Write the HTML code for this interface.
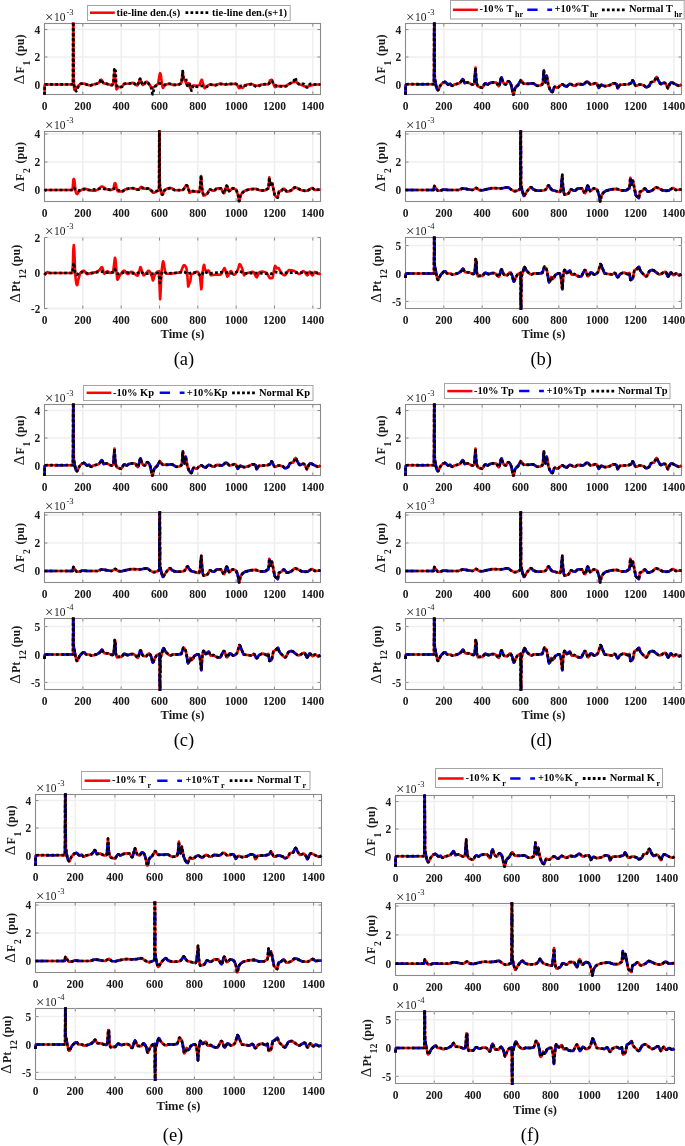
<!DOCTYPE html><html><head><meta charset="utf-8"><style>
html,body{margin:0;padding:0;background:#fff;width:685px;height:1146px;overflow:hidden}
svg{display:block;will-change:transform}
text{font-family:"Liberation Serif",serif;fill:#1a1a1a}
.tk{font-size:12.8px;font-weight:bold}
.yl{font-size:12px;font-weight:bold}
.ylD{font-size:15px}
.xl{font-size:12.2px;font-weight:bold}
.lg{font-size:10.5px;font-weight:bold;fill:#000}
.ex{font-size:11.5px}
.cap{font-size:18.5px;fill:#000}
.r{fill:none;stroke:#f00;stroke-width:2.6;stroke-linejoin:round}
.b{fill:none;stroke:#00f;stroke-width:2.6;stroke-dasharray:10.2 10.2;stroke-linejoin:round}
.k{fill:none;stroke:#000;stroke-width:2.7;stroke-dasharray:2.8 2.3;stroke-linejoin:round}
</style></head><body>
<svg width="685" height="1146" viewBox="0 0 685 1146">
<defs>
<clipPath id="c1"><rect x="42.5" y="22.3" width="280" height="73.4"/></clipPath>
<clipPath id="c2"><rect x="42.5" y="130.3" width="280" height="72.4"/></clipPath>
<clipPath id="c3"><rect x="42.5" y="236.3" width="280" height="73.4"/></clipPath>
<clipPath id="c4"><rect x="403.5" y="22.3" width="280" height="73.4"/></clipPath>
<path id="p5" d="M405.5,94.8 405.7,85.8 405.8,84.9 406.5,84.4 407.4,84.2 434,84.2 434.2,19.5 434.4,19.5 434.7,75.5 435.1,80.2 436.2,86.5 437,89.1 437.8,90.2 438.1,90.2 438.5,89.7 440.1,86 441.3,84.2 443.2,82.6 444.7,81.9 445.4,82 447.7,84.4 448.2,84.4 450.3,83.8 451.6,85.7 452.1,85.8 454.4,84.5 458.5,83.5 459.7,83 460.8,81.9 462.4,79.4 462.8,79.1 463.2,79.6 464.6,83.1 467.8,82.4 471.7,84.4 472.7,84.5 473.6,84.1 474.2,83.6 474.5,81.7 475.5,67.6 476,77.6 476.5,82.2 477.2,84.9 477.7,85.8 478.2,86.5 481.3,87.6 482.1,87.8 482.6,87.3 484.5,84.1 485.2,83.3 485.8,83.3 487.2,84.3 487.8,84.5 489.9,83.1 492.4,82.4 496.2,82.5 496.7,83.1 498.3,85.7 498.6,86.1 498.9,86.1 499.5,84.8 501.1,78.1 501.5,77.3 501.8,77.8 502.6,80.8 503.3,82.8 504.6,84 505.5,84.4 506.1,84.4 507.7,81.7 508.2,81.2 509.3,81.7 510.5,83.2 511.5,86.2 513,94.1 513.4,95 513.8,94.1 515.1,88 515.9,87 518.1,85 520.8,80.1 521.3,80.4 522.4,82.4 523.4,83.4 524,83.8 529,83.8 532.7,83.3 533.7,83.7 536.8,85.6 537.6,85.8 540,85.5 542.2,84.5 542.5,83.5 543.1,80.4 543.9,70.5 544.6,79.6 545.1,82.1 545.4,82.4 545.6,82 546.5,76.5 546.8,75.7 548.2,84.3 548.9,86.8 550.1,89.7 551.4,91.4 552.2,92 552.7,91.5 554,87.7 554.5,86.8 555.3,86.9 557,87.7 557.7,87.7 558.3,87.4 559.7,85.9 561.9,84.5 563,84.7 565.3,86.2 566.2,86.5 567.1,86.2 569,84.4 569.9,83.9 570.9,84.1 573.5,85.6 574.6,85.8 575.3,85.6 577,84.3 577.8,83.9 582.1,84.4 583.3,84.4 584.1,83.9 586.1,82.1 587.1,81.7 588,82 589.9,84 590.7,84.5 592.1,84.3 595.2,83.2 596.4,83.2 597,83.8 597.7,85.2 598.7,87.9 599.1,87.6 599.9,86 601.2,84.9 602.1,85 604.4,86.1 605.9,86.1 609.7,85.2 613.1,83.3 615,83.4 616.6,84.1 617.4,87.5 617.7,88.2 618.2,87.7 619.4,85.5 619.9,84.9 627.7,84.2 629.8,83.8 630.7,83.3 631.7,82.4 632.6,80.4 633.1,80.9 634.9,84.7 635.7,85.8 636.7,85.7 639.3,84.6 640.8,84.5 644,85.5 645.8,87.1 646.6,87.2 648,86.7 649.4,85.6 650.9,82.2 654.1,81.5 654.7,80.5 655.9,77.6 656.6,76.9 657.1,77.5 658,79.8 659.3,82 660.3,83.6 660.8,83.9 661.3,83.9 663.9,82.8 664.8,82.8 665.5,83.5 666.5,85.2 667.5,87.7 667.9,88.2 668.3,87.7 669.1,85.4 670,83.7 670.6,82.8 671.1,82.4 672.5,82.7 677.5,85.3 678.8,85.8 679.9,85.7 681.5,84.5"/>
<clipPath id="c6"><rect x="403.5" y="130.3" width="280" height="72.4"/></clipPath>
<path id="p7" d="M405.5,190 433.7,190 434.1,187.2 434.4,186 437.1,190.1 437.9,190.7 440.5,190.5 443.7,189.6 448.5,190 458.3,190 461.7,188.8 462.7,188.6 465.4,188.8 472.3,190 473.2,189.7 476.2,187.9 476.9,188.2 478.9,190 482.7,190.3 486.6,189.2 491.8,188.2 493.9,188.1 498,188.3 500.4,188.3 503.4,188 507.6,187.2 508.5,187.5 510.9,189.3 513.1,190.6 514.3,191.1 515.4,191.1 516.8,190.8 519.6,189.6 520.3,188.6 520.6,127.5 520.8,127.5 521,183 521.3,185.8 522.3,190.9 523.4,194.8 523.9,195.9 524.2,195.8 524.6,195.4 526.2,192.5 528.1,189.9 530,187.8 530.9,187.2 531.6,187.5 533.2,189.3 535.2,190.2 538.3,190.7 541.6,190.6 544.2,190.2 545.3,189.8 547,187.9 548,185.9 548.5,185.4 549,185.8 550.2,187.9 551.5,189.4 552.2,190 558.1,191.7 560.1,191.9 560.6,190.7 561.2,186.9 562.3,174.8 563,187.2 563.8,192.5 564.5,194.6 566.2,194.4 568.3,193.5 568.9,192.8 570.3,190.1 570.9,189.5 571.7,189.6 573.8,190.7 574.7,190.8 575.5,190.4 577.3,188.7 578.1,188.3 581.9,188.4 582.6,189.3 584.3,192.6 584.8,193.1 585.2,193.2 585.8,191.9 587,186.7 587.6,185.7 588.2,186.3 589.6,190.3 590.2,191.1 591,190.8 593,188.8 593.7,188.4 595.3,188.7 597.1,189.8 597.9,191.6 599.1,195.3 599.9,200.9 600.2,201.6 600.5,200.9 601.3,196.2 602.1,194.5 603.7,192.3 606.2,190.7 610.7,189.4 616.1,188.9 617.5,189.1 620.9,190.4 626,190.4 626.7,190.1 628.1,189 629.3,188.4 629.6,187 630.3,177.7 631.1,184.8 631.5,184.3 632.5,181 632.8,180.6 633,180.9 635.7,194.9 636.5,196.1 638.7,198.1 639,197.7 639.9,191.7 642.3,190.8 644.1,189 644.8,188.6 645.6,189 647.4,191.3 648.1,191.7 650.1,191.3 652.8,190 655.1,187.8 656.1,187.4 657.5,187.7 662.6,190.3 666,190.8 668.6,190.7 671.8,188.5 673,188.1 673.7,188.3 675.4,189.7 676,190 681.5,189.5"/>
<clipPath id="c8"><rect x="403.5" y="236.3" width="280" height="73.4"/></clipPath>
<path id="p9" d="M405.5,278 405.8,274.1 405.9,273.8 406.6,273.5 434,273.5 434.2,233.5 434.4,233.5 434.5,238.1 434.7,265.1 435,267.6 435.6,270 436.6,275.4 437.3,278.7 437.8,279.9 438.1,279.9 438.6,279.3 440.2,275.8 441.4,274 443.7,271.8 445,271.2 445.6,271.4 446.7,273.1 447.2,273.5 450.3,273.5 452.2,274.6 453.5,274.5 457.4,273.4 459.6,272.4 461.5,270.7 462.5,269 463,268.6 463.4,269 464.1,270.7 465.2,272.1 469,272.4 472.4,273.8 473.7,274 474.3,273.3 474.9,271.8 475.6,259 476.2,259.5 476.3,260.5 476.8,272.4 477.5,275.3 478,276.3 479.8,275.7 482.3,275.9 482.9,275.4 484.7,273.1 485.4,272.7 486.1,272.9 487.5,273.8 488.2,274.1 489.2,273.9 492.3,273 493.7,273.1 495.3,273.5 496.2,274.1 498.1,276.5 498.8,276.9 499.3,276.1 501,270.2 501.5,269.4 502,270.1 503.6,274.2 504.2,274.9 507.3,275.1 507.9,274.7 509.5,272.6 510,272.4 510.5,272.7 511.3,273.8 512.4,276 513.4,280.9 513.8,281.7 514.4,281 515.8,277.2 517.4,274.7 518.7,273.6 520.6,272.9 520.8,312.5 521,312.5 521.1,307.5 521.3,279.1 521.6,276.4 523.1,271.1 524,267.9 524.5,267.1 525,267.5 526.2,270.2 527.7,271.9 530.1,273.9 531.6,274.4 534.3,273.3 538.8,273.5 542.2,272.9 542.7,271.9 544.2,267 544.5,266.6 544.8,266.8 546.1,268.3 546.7,269.8 547.6,274 548.7,281.2 549.1,282.3 549.5,281.9 550.3,280.5 551.3,276.9 551.5,277.1 552.2,279 552.7,279 553.4,278.5 554.2,277.6 555.1,275.3 555.6,274.8 557.6,273.6 558.6,273.3 559.4,273.3 560.2,274.5 561,277.5 562.3,289.3 563.3,275.4 563.9,271.8 564.5,270 565.1,270.3 566.3,272.5 566.8,272.9 567.5,272.7 569.1,270.9 569.8,270.6 570.1,271 571.2,274 571.6,274.6 574.6,274.1 576.8,275.8 578.9,276.3 580.9,276.4 581.4,276.2 581.9,275.4 584.2,270.7 584.7,270.1 585.2,270 585.9,271.1 587.4,275.7 587.8,276.3 588.1,276.4 588.6,275.9 590.1,273.1 590.7,272.4 591.6,272.6 593.5,274.2 594.3,274.6 595.5,274.3 596.9,273.3 597.9,272.1 598.4,271.2 600.4,264.2 600.8,264.4 601.3,265.2 604.1,272.4 604.7,273.5 611.9,274.5 612.6,274.2 614.2,273.1 614.9,273 615.6,273.7 617,276.6 617.7,277.2 618.3,276.8 620,274.2 622.5,272.9 624.5,272.6 626.9,273.9 627.6,274.1 629.4,272.9 630.5,280 631.7,279.5 632.9,278.1 634.4,270.1 636.5,269.3 638.2,267.3 638.9,266.8 639,266.8 639.3,267.4 640.2,270.4 641.2,271.9 644.7,275.6 646,276.4 646.5,276.3 647.1,275.6 649.4,271.2 650.9,270.3 652.4,270 653.7,270.4 658.2,273.9 659.5,274.4 660.8,274.2 664.1,272.1 665.5,271.8 666.1,272.5 667.5,275.9 668.1,276.4 668.7,275.9 670.1,273 670.7,272.3 671.3,272.6 672.9,274.7 673.5,275.2 674.1,275 675.4,273.8 675.8,273.5 676.7,273.7 678.5,275 679.3,275.2 680.1,275 681.5,274.1"/>
<clipPath id="c10"><rect x="42.5" y="403.3" width="280" height="73.4"/></clipPath>
<path id="p11" d="M44.5,475.8 44.7,466.8 44.8,465.9 45.5,465.4 46.4,465.2 73,465.2 73.2,400.5 73.4,400.5 73.7,456.5 74.1,461.2 75.2,467.5 76,470.1 76.8,471.2 77.1,471.2 77.5,470.7 79.1,467 80.3,465.2 82.2,463.6 83.7,462.9 84.4,463 86.7,465.4 87.2,465.4 89.3,464.8 90.6,466.7 91.1,466.8 93.4,465.5 97.5,464.5 98.7,464 99.8,462.9 101.4,460.4 101.8,460.1 102.2,460.6 103.6,464.1 106.8,463.4 110.7,465.4 111.7,465.5 112.6,465.1 113.2,464.6 113.5,462.7 114.5,448.6 115,458.6 115.5,463.2 116.2,465.9 116.7,466.8 117.2,467.5 120.3,468.6 121.1,468.8 121.5,468.3 123.5,465.1 124.2,464.3 124.8,464.3 126.2,465.3 126.8,465.5 128.9,464.1 131.4,463.4 135.2,463.5 135.7,464.1 137.3,466.7 137.7,467.1 137.9,467.1 138.5,465.8 140.1,459.1 140.5,458.3 140.8,458.8 141.6,461.8 142.3,463.8 143.6,465 144.5,465.4 145.1,465.4 146.7,462.7 147.2,462.2 148.3,462.7 149.5,464.2 150.5,467.2 152,475.1 152.4,476 152.8,475.1 154.1,469 154.9,468 157.1,466 159.8,461.1 160.3,461.4 161.4,463.4 162.4,464.4 163,464.8 168,464.8 171.7,464.3 172.7,464.7 175.8,466.6 176.6,466.8 179.1,466.5 181.2,465.5 181.5,464.5 182.1,461.4 182.9,451.5 183.6,460.6 184.1,463.1 184.4,463.4 184.6,463 185.5,457.5 185.8,456.7 187.2,465.3 187.9,467.8 189.1,470.7 190.4,472.4 191.2,473 191.7,472.5 193,468.7 193.5,467.8 194.3,467.9 196,468.7 196.7,468.7 197.3,468.4 198.7,466.9 200.9,465.5 202.1,465.7 204.3,467.2 205.2,467.5 206.1,467.2 208,465.4 208.9,464.9 209.9,465.1 212.5,466.6 213.6,466.8 214.3,466.6 216,465.3 216.8,464.9 221.1,465.4 222.3,465.4 223.1,464.9 225.1,463.1 226.1,462.7 227,463 228.9,465 229.7,465.5 231.1,465.3 234.2,464.2 235.4,464.2 236,464.8 236.7,466.2 237.7,468.9 238.1,468.6 238.9,467 240.2,465.9 241.2,466 243.4,467.1 244.9,467.1 248.7,466.2 252.1,464.3 254,464.4 255.6,465.1 256.4,468.5 256.7,469.2 257.2,468.7 258.4,466.5 258.9,465.9 266.7,465.2 268.8,464.8 269.7,464.3 270.7,463.4 271.6,461.4 272.1,461.9 273.9,465.7 274.7,466.8 275.7,466.7 278.3,465.6 279.8,465.5 283,466.5 284.8,468.1 285.6,468.2 287,467.7 288.4,466.6 289.9,463.2 293.1,462.5 293.7,461.5 294.9,458.6 295.6,457.9 296.1,458.5 297,460.8 298.3,463 299.3,464.6 299.8,464.9 300.3,464.9 302.9,463.8 303.8,463.8 304.5,464.5 305.6,466.2 306.5,468.7 306.9,469.2 307.3,468.7 308.1,466.4 309,464.7 309.6,463.8 310.1,463.4 311.5,463.7 316.5,466.3 317.8,466.8 318.9,466.7 320.5,465.5"/>
<clipPath id="c12"><rect x="42.5" y="511.3" width="280" height="72.4"/></clipPath>
<path id="p13" d="M44.5,571 72.7,571 73.1,568.2 73.4,567 76.1,571.1 76.9,571.7 79.5,571.5 82.7,570.6 87.5,571 97.3,571 100.7,569.8 101.7,569.6 104.4,569.8 111.3,571 112.2,570.7 115.2,568.9 115.9,569.2 117.9,571 121.7,571.3 125.6,570.2 130.8,569.2 132.9,569.1 137,569.3 139.4,569.3 142.4,569 146.6,568.2 147.5,568.5 149.9,570.3 152.1,571.6 153.3,572.1 154.4,572.1 155.8,571.8 158.6,570.6 159.3,569.6 159.6,508.5 159.8,508.5 160,564 160.3,566.8 161.3,571.9 162.4,575.8 162.9,576.9 163.2,576.8 163.6,576.4 165.2,573.5 167.1,570.9 169,568.8 169.9,568.2 170.6,568.5 172.2,570.3 174.2,571.2 177.3,571.7 180.6,571.6 183.2,571.2 184.3,570.8 185.9,568.9 187,566.9 187.5,566.4 188,566.8 189.2,568.9 190.5,570.4 191.2,571 197.1,572.7 199.1,572.9 199.6,571.7 200.2,567.9 201.3,555.8 202.1,568.2 202.8,573.5 203.5,575.6 205.2,575.4 207.3,574.5 207.9,573.8 209.3,571.1 209.9,570.5 210.7,570.6 212.8,571.7 213.7,571.8 214.5,571.4 216.3,569.7 217.1,569.3 220.9,569.4 221.6,570.3 223.3,573.6 223.8,574.1 224.2,574.2 224.8,572.9 226,567.7 226.6,566.7 227.2,567.3 228.6,571.3 229.2,572.1 230,571.8 231.9,569.8 232.7,569.4 234.3,569.7 236.1,570.8 236.9,572.6 238.1,576.3 238.9,581.9 239.2,582.6 239.5,581.9 240.3,577.2 241.1,575.5 242.7,573.3 245.2,571.7 249.7,570.4 255.1,569.9 256.5,570.1 259.9,571.4 265,571.4 265.7,571.1 267.1,570 268.3,569.4 268.6,568 269.3,558.7 270.1,565.8 270.5,565.3 271.5,562 271.8,561.6 272,561.9 274.7,575.9 275.5,577.1 277.7,579.1 277.9,578.7 278.9,572.7 281.3,571.8 283.1,570 283.8,569.6 284.6,570 286.4,572.3 287.1,572.7 289.1,572.3 291.8,571 294.1,568.8 295.1,568.4 296.5,568.7 301.6,571.3 305,571.8 307.6,571.7 310.8,569.5 312,569.1 312.7,569.3 314.4,570.7 315,571 320.5,570.5"/>
<clipPath id="c14"><rect x="42.5" y="617.3" width="280" height="73.4"/></clipPath>
<path id="p15" d="M44.5,659 44.8,655.1 44.9,654.8 45.6,654.5 73,654.5 73.2,614.5 73.4,614.5 73.5,619.1 73.7,646.1 74,648.6 74.6,651 75.5,656.4 76.3,659.7 76.8,660.9 77.1,660.9 77.6,660.3 79.2,656.8 80.4,655 82.7,652.8 84,652.2 84.6,652.4 85.7,654.1 86.2,654.5 89.3,654.5 91.2,655.6 92.5,655.5 96.4,654.4 98.5,653.4 100.5,651.7 101.5,650 102,649.6 102.4,650 103.2,651.7 104.2,653.1 108,653.4 111.4,654.8 112.7,655 113.3,654.3 113.9,652.8 114.7,640 115.2,640.5 115.3,641.5 115.8,653.4 116.5,656.3 117,657.3 118.8,656.7 121.3,656.9 121.9,656.4 123.7,654.1 124.4,653.7 125.1,653.9 126.5,654.8 127.2,655.1 128.2,654.9 131.3,654 132.7,654.1 134.3,654.5 135.2,655.1 137.1,657.5 137.8,657.9 138.3,657.1 140,651.2 140.5,650.4 141,651.1 142.6,655.2 143.2,655.9 146.3,656.1 146.8,655.7 148.5,653.6 149,653.4 149.5,653.7 150.3,654.8 151.4,657 152.4,661.9 152.8,662.7 153.4,662 154.8,658.2 156.4,655.7 157.7,654.6 159.6,653.9 159.8,693.5 160,693.5 160.1,688.5 160.3,660.1 160.7,657.4 162.1,652.1 163,648.9 163.5,648.1 164,648.5 165.2,651.2 166.7,652.9 169.1,654.9 170.6,655.4 173.3,654.3 177.8,654.5 181.2,653.9 181.7,652.9 183.2,648 183.5,647.6 183.8,647.8 185.1,649.3 185.7,650.8 186.6,655 187.7,662.2 188.1,663.3 188.5,662.9 189.3,661.5 190.3,657.9 190.6,658.1 191.2,660 191.7,660 192.4,659.5 193.2,658.6 194.1,656.3 194.6,655.8 196.6,654.6 197.6,654.3 198.4,654.3 199.2,655.5 200,658.5 201.3,670.3 202.3,656.4 202.9,652.8 203.5,651 204.1,651.3 205.3,653.5 205.8,653.9 206.5,653.7 208.1,651.9 208.8,651.6 209.2,652.2 210.1,654.8 210.6,655.6 213.6,655.1 215.8,656.8 217.9,657.3 219.9,657.4 220.4,657.2 220.9,656.4 223.2,651.7 223.7,651.1 224.2,651 224.9,652.1 226.4,656.7 226.8,657.3 227.1,657.4 227.7,656.7 229.2,653.9 229.7,653.4 230.6,653.6 232.5,655.2 233.3,655.6 234.5,655.3 235.9,654.3 236.9,653.1 237.4,652.2 239.4,645.2 239.8,645.4 240.3,646.2 243.1,653.4 243.7,654.5 250.9,655.5 251.6,655.2 253.2,654.1 253.9,654 254.6,654.7 256,657.6 256.7,658.2 257.3,657.8 259,655.2 261.5,653.9 263.5,653.6 265.9,654.9 266.6,655.1 268.4,653.9 269.5,661 270.7,660.5 271.9,659.1 273.4,651.1 275.5,650.3 277.2,648.3 277.9,647.8 278,647.8 278.3,648.4 279.2,651.4 280.2,652.9 283.7,656.6 285,657.4 285.5,657.3 286.1,656.6 288.4,652.2 289.9,651.3 291.4,651 292.7,651.4 297.2,654.9 298.5,655.4 299.8,655.2 303.1,653.1 304.5,652.8 305.1,653.5 306.5,656.9 307.1,657.4 307.7,656.9 309.1,654 309.7,653.3 310.3,653.6 311.9,655.7 312.5,656.2 313.1,656 314.4,654.8 314.8,654.5 315.7,654.7 317.5,656 318.3,656.2 319.1,656 320.5,655.1"/>
<clipPath id="c16"><rect x="403.5" y="403.3" width="280" height="73.4"/></clipPath>
<path id="p17" d="M405.5,475.8 405.7,466.8 405.8,465.9 406.5,465.4 407.4,465.2 434,465.2 434.2,400.5 434.4,400.5 434.7,456.5 435.1,461.2 436.2,467.5 437,470.1 437.8,471.2 438.1,471.2 438.5,470.7 440.1,467 441.3,465.2 443.2,463.6 444.7,462.9 445.4,463 447.7,465.4 448.2,465.4 450.3,464.8 451.6,466.7 452.1,466.8 454.4,465.5 458.5,464.5 459.7,464 460.8,462.9 462.4,460.4 462.8,460.1 463.2,460.6 464.6,464.1 467.8,463.4 471.7,465.4 472.7,465.5 473.6,465.1 474.2,464.6 474.5,462.7 475.5,448.6 476,458.6 476.5,463.2 477.2,465.9 477.7,466.8 478.2,467.5 481.3,468.6 482.1,468.8 482.6,468.3 484.5,465.1 485.2,464.3 485.8,464.3 487.2,465.3 487.8,465.5 489.9,464.1 492.4,463.4 496.2,463.5 496.7,464.1 498.3,466.7 498.6,467.1 498.9,467.1 499.5,465.8 501.1,459.1 501.5,458.3 501.8,458.8 502.6,461.8 503.3,463.8 504.6,465 505.5,465.4 506.1,465.4 507.7,462.7 508.2,462.2 509.3,462.7 510.5,464.2 511.5,467.2 513,475.1 513.4,476 513.8,475.1 515.1,469 515.9,468 518.1,466 520.8,461.1 521.3,461.4 522.4,463.4 523.4,464.4 524,464.8 529,464.8 532.7,464.3 533.7,464.7 536.8,466.6 537.6,466.8 540,466.5 542.2,465.5 542.5,464.5 543.1,461.4 543.9,451.5 544.6,460.6 545.1,463.1 545.4,463.4 545.6,463 546.5,457.5 546.8,456.7 548.2,465.3 548.9,467.8 550.1,470.7 551.4,472.4 552.2,473 552.7,472.5 554,468.7 554.5,467.8 555.3,467.9 557,468.7 557.7,468.7 558.3,468.4 559.7,466.9 561.9,465.5 563,465.7 565.3,467.2 566.2,467.5 567.1,467.2 569,465.4 569.9,464.9 570.9,465.1 573.5,466.6 574.6,466.8 575.3,466.6 577,465.3 577.8,464.9 582.1,465.4 583.3,465.4 584.1,464.9 586.1,463.1 587.1,462.7 588,463 589.9,465 590.7,465.5 592.1,465.3 595.2,464.2 596.4,464.2 597,464.8 597.7,466.2 598.7,468.9 599.1,468.6 599.9,467 601.2,465.9 602.1,466 604.4,467.1 605.9,467.1 609.7,466.2 613.1,464.3 615,464.4 616.6,465.1 617.4,468.5 617.7,469.2 618.2,468.7 619.4,466.5 619.9,465.9 627.7,465.2 629.8,464.8 630.7,464.3 631.7,463.4 632.6,461.4 633.1,461.9 634.9,465.7 635.7,466.8 636.7,466.7 639.3,465.6 640.8,465.5 644,466.5 645.8,468.1 646.6,468.2 648,467.7 649.4,466.6 650.9,463.2 654.1,462.5 654.7,461.5 655.9,458.6 656.6,457.9 657.1,458.5 658,460.8 659.3,463 660.3,464.6 660.8,464.9 661.3,464.9 663.9,463.8 664.8,463.8 665.5,464.5 666.5,466.2 667.5,468.7 667.9,469.2 668.3,468.7 669.1,466.4 670,464.7 670.6,463.8 671.1,463.4 672.5,463.7 677.5,466.3 678.8,466.8 679.9,466.7 681.5,465.5"/>
<clipPath id="c18"><rect x="403.5" y="511.3" width="280" height="72.4"/></clipPath>
<path id="p19" d="M405.5,571 433.7,571 434.1,568.2 434.4,567 437.1,571.1 437.9,571.7 440.5,571.5 443.7,570.6 448.5,571 458.3,571 461.7,569.8 462.7,569.6 465.4,569.8 472.3,571 473.2,570.7 476.2,568.9 476.9,569.2 478.9,571 482.7,571.3 486.6,570.2 491.8,569.2 493.9,569.1 498,569.3 500.4,569.3 503.4,569 507.6,568.2 508.5,568.5 510.9,570.3 513.1,571.6 514.3,572.1 515.4,572.1 516.8,571.8 519.6,570.6 520.3,569.6 520.6,508.5 520.8,508.5 521,564 521.3,566.8 522.3,571.9 523.4,575.8 523.9,576.9 524.2,576.8 524.6,576.4 526.2,573.5 528.1,570.9 530,568.8 530.9,568.2 531.6,568.5 533.2,570.3 535.2,571.2 538.3,571.7 541.6,571.6 544.2,571.2 545.3,570.8 547,568.9 548,566.9 548.5,566.4 549,566.8 550.2,568.9 551.5,570.4 552.2,571 558.1,572.7 560.1,572.9 560.6,571.7 561.2,567.9 562.3,555.8 563,568.2 563.8,573.5 564.5,575.6 566.2,575.4 568.3,574.5 568.9,573.8 570.3,571.1 570.9,570.5 571.7,570.6 573.8,571.7 574.7,571.8 575.5,571.4 577.3,569.7 578.1,569.3 581.9,569.4 582.6,570.3 584.3,573.6 584.8,574.1 585.2,574.2 585.8,572.9 587,567.7 587.6,566.7 588.2,567.3 589.6,571.3 590.2,572.1 591,571.8 593,569.8 593.7,569.4 595.3,569.7 597.1,570.8 597.9,572.6 599.1,576.3 599.9,581.9 600.2,582.6 600.5,581.9 601.3,577.2 602.1,575.5 603.7,573.3 606.2,571.7 610.7,570.4 616.1,569.9 617.5,570.1 620.9,571.4 626,571.4 626.7,571.1 628.1,570 629.3,569.4 629.6,568 630.3,558.7 631.1,565.8 631.5,565.3 632.5,562 632.8,561.6 633,561.9 635.7,575.9 636.5,577.1 638.7,579.1 639,578.7 639.9,572.7 642.3,571.8 644.1,570 644.8,569.6 645.6,570 647.4,572.3 648.1,572.7 650.1,572.3 652.8,571 655.1,568.8 656.1,568.4 657.5,568.7 662.6,571.3 666,571.8 668.6,571.7 671.8,569.5 673,569.1 673.7,569.3 675.4,570.7 676,571 681.5,570.5"/>
<clipPath id="c20"><rect x="403.5" y="617.3" width="280" height="73.4"/></clipPath>
<path id="p21" d="M405.5,659 405.8,655.1 405.9,654.8 406.6,654.5 434,654.5 434.2,614.5 434.4,614.5 434.5,619.1 434.7,646.1 435,648.6 435.6,651 436.6,656.4 437.3,659.7 437.8,660.9 438.1,660.9 438.6,660.3 440.2,656.8 441.4,655 443.7,652.8 445,652.2 445.6,652.4 446.7,654.1 447.2,654.5 450.3,654.5 452.2,655.6 453.5,655.5 457.4,654.4 459.6,653.4 461.5,651.7 462.5,650 463,649.6 463.4,650 464.1,651.7 465.2,653.1 469,653.4 472.4,654.8 473.7,655 474.3,654.3 474.9,652.8 475.6,640 476.2,640.5 476.3,641.5 476.8,653.4 477.5,656.3 478,657.3 479.8,656.7 482.3,656.9 482.9,656.4 484.7,654.1 485.4,653.7 486.1,653.9 487.5,654.8 488.2,655.1 489.2,654.9 492.3,654 493.7,654.1 495.3,654.5 496.2,655.1 498.1,657.5 498.8,657.9 499.3,657.1 501,651.2 501.5,650.4 502,651.1 503.6,655.2 504.2,655.9 507.3,656.1 507.9,655.7 509.5,653.6 510,653.4 510.5,653.7 511.3,654.8 512.4,657 513.4,661.9 513.8,662.7 514.4,662 515.8,658.2 517.4,655.7 518.7,654.6 520.6,653.9 520.8,693.5 521,693.5 521.1,688.5 521.3,660.1 521.6,657.4 523.1,652.1 524,648.9 524.5,648.1 525,648.5 526.2,651.2 527.7,652.9 530.1,654.9 531.6,655.4 534.3,654.3 538.8,654.5 542.2,653.9 542.7,652.9 544.2,648 544.5,647.6 544.8,647.8 546.1,649.3 546.7,650.8 547.6,655 548.7,662.2 549.1,663.3 549.5,662.9 550.3,661.5 551.3,657.9 551.5,658.1 552.2,660 552.7,660 553.4,659.5 554.2,658.6 555.1,656.3 555.6,655.8 557.6,654.6 558.6,654.3 559.4,654.3 560.2,655.5 561,658.5 562.3,670.3 563.3,656.4 563.9,652.8 564.5,651 565.1,651.3 566.3,653.5 566.8,653.9 567.5,653.7 569.1,651.9 569.8,651.6 570.1,652 571.2,655 571.6,655.6 574.6,655.1 576.8,656.8 578.9,657.3 580.9,657.4 581.4,657.2 581.9,656.4 584.2,651.7 584.7,651.1 585.2,651 585.9,652.1 587.4,656.7 587.8,657.3 588.1,657.4 588.7,656.7 590.2,653.9 590.7,653.4 591.6,653.6 593.5,655.2 594.3,655.6 595.5,655.3 596.9,654.3 597.9,653.1 598.4,652.2 600.4,645.2 600.8,645.4 601.3,646.2 604.1,653.4 604.7,654.5 611.9,655.5 612.6,655.2 614.2,654.1 614.9,654 615.6,654.7 617,657.6 617.7,658.2 618.3,657.8 620,655.2 622.5,653.9 624.5,653.6 626.9,654.9 627.6,655.1 629.4,653.9 630.5,661 631.7,660.5 632.9,659.1 634.4,651.1 636.5,650.3 638.2,648.3 638.9,647.8 639,647.8 639.3,648.4 640.2,651.4 641.2,652.9 644.7,656.6 646,657.4 646.5,657.3 647.1,656.6 649.4,652.2 650.9,651.3 652.4,651 653.7,651.4 658.2,654.9 659.5,655.4 660.8,655.2 664.1,653.1 665.5,652.8 666.1,653.5 667.5,656.9 668.1,657.4 668.7,656.9 670.1,654 670.7,653.3 671.3,653.6 672.9,655.7 673.5,656.2 674.1,656 675.4,654.8 675.8,654.5 676.7,654.7 678.5,656 679.3,656.2 680.1,656 681.5,655.1"/>
<clipPath id="c22"><rect x="33.5" y="793.3" width="290" height="73.4"/></clipPath>
<path id="p23" d="M35.5,865.8 35.7,856.8 35.8,855.9 36.5,855.4 37.5,855.2 65,855.2 65.2,790.5 65.5,790.5 65.8,846.5 66.2,851.2 67.3,857.5 68.2,860.1 69,861.2 69.3,861.2 69.7,860.7 71.3,857 72.6,855.2 74.5,853.6 76.1,852.9 76.8,853 79.2,855.4 79.8,855.4 81.9,854.8 83.3,856.7 83.8,856.8 86.1,855.5 90.4,854.5 91.7,854 92.8,852.9 94.5,850.4 94.9,850.1 95.3,850.6 96.8,854.1 100,853.4 104.1,855.4 105.1,855.5 106.1,855.1 106.7,854.6 107,852.7 108,838.6 108.6,848.6 109.1,853.2 109.8,855.9 110.3,856.8 110.9,857.5 114.1,858.6 114.8,858.8 115.3,858.3 117.3,855.1 118.1,854.3 118.7,854.3 120.2,855.3 120.8,855.5 123,854.1 125.6,853.4 129.4,853.5 130,854.1 131.6,856.7 132,857.1 132.3,857.1 132.9,855.8 134.6,849.1 135,848.3 135.3,848.8 136.1,851.8 136.9,853.8 137.2,854.2 138.2,855 139.1,855.4 139.8,855.4 141.4,852.7 142,852.2 143,852.7 144.3,854.2 145.3,857.2 146,860 146.9,865.1 147.3,866 147.7,865.1 149.1,859 149.9,858 152.2,856 155,851.1 155.5,851.4 156.7,853.4 157.6,854.4 158.3,854.8 163.5,854.8 167.3,854.3 168.4,854.7 171.5,856.6 172.3,856.8 174.9,856.5 177.1,855.5 177.5,854.5 178.1,851.4 178.9,841.5 179.6,850.6 180.2,853.1 180.5,853.4 180.7,853 181.6,847.5 181.9,846.7 183.4,855.3 184.1,857.8 185.4,860.7 186.6,862.4 187.5,863 187.7,863 188,862.5 189.4,858.7 189.9,857.8 190.7,857.9 192.5,858.7 193.2,858.7 193.8,858.4 195.3,856.9 197.6,855.5 198.8,855.7 201,857.2 202,857.5 202.9,857.2 204.9,855.4 205.8,854.9 206.9,855.1 209.6,856.6 210.8,856.8 211.5,856.6 213.3,855.3 214.1,854.9 218.5,855.4 219.7,855.4 220.6,854.9 222.7,853.1 223.7,852.7 224.6,853 226.6,855 227.5,855.5 228.8,855.3 232.1,854.2 233.3,854.2 233.9,854.8 234.7,856.2 235.7,858.9 236.1,858.6 237,857 238.3,855.9 239.3,856 241.6,857.1 243.1,857.1 247.1,856.2 250.6,854.3 252.6,854.4 254.3,855.1 255.1,858.5 255.4,859.2 256,858.7 257.1,856.5 257.6,855.9 265.8,855.2 267.9,854.8 268.9,854.3 269.9,853.4 270.9,851.4 271.4,851.9 273.2,855.7 274,856.8 275.1,856.7 277.8,855.6 279.3,855.5 282.7,856.5 284.5,858.1 285.4,858.2 286.7,857.7 288.2,856.6 289.8,853.2 293.1,852.5 293.7,851.5 295,848.6 295.7,847.9 296.2,848.5 297.2,850.8 298.5,853 299.6,854.6 300.1,854.9 300.5,854.9 303.2,853.8 304.2,853.8 304.9,854.5 306,856.2 307,858.7 307.4,859.2 307.8,858.7 308.7,856.4 309.6,854.7 310.2,853.8 310.7,853.4 312.2,853.7 317.3,856.3 318.7,856.8 319.8,856.7 321.5,855.5"/>
<clipPath id="c24"><rect x="33.5" y="901.3" width="290" height="72.4"/></clipPath>
<path id="p25" d="M35.5,961 64.7,961 65.1,958.2 65.5,957 68.3,961.1 69.1,961.7 71.7,961.5 75.1,960.6 80.1,961 90.2,961 93.7,959.8 94.8,959.6 97.6,959.8 104.7,961 105.6,960.7 108.8,958.9 109.5,959.2 111.6,961 115.5,961.3 119.5,960.2 125,959.2 127.1,959.1 131.3,959.3 133.8,959.3 137,959 141.3,958.2 142.3,958.5 144.7,960.3 147,961.6 148.2,962.1 149.4,962.1 150.8,961.8 153.8,960.6 154.5,959.6 154.7,898.5 155,898.5 155.2,954 155.5,956.8 156.6,961.9 157.6,965.8 158.1,966.9 158.5,966.8 158.9,966.4 160.5,963.5 162.5,960.9 164.5,958.8 165.5,958.2 166.2,958.5 167.9,960.3 169.9,961.2 173.1,961.7 176.5,961.6 179.2,961.2 180.4,960.8 182.1,958.9 183.2,956.9 183.7,956.4 184.2,956.8 185.5,958.9 186.7,960.4 187.5,961 193.6,962.7 195.7,962.9 196.2,961.7 196.9,957.9 198,945.8 198.8,958.2 199.6,963.5 200.2,965.6 202,965.4 204.2,964.5 204.8,963.8 206.3,961.1 206.9,960.5 207.7,960.6 209.9,961.7 210.9,961.8 211.7,961.4 213.6,959.7 214.3,959.3 218.3,959.4 219,960.3 220.8,963.6 221.3,964.1 221.7,964.2 222.3,962.9 223.6,957.7 224.2,956.7 224.8,957.3 226.3,961.3 226.9,962.1 227.8,961.8 229.7,959.8 230.5,959.4 232.2,959.7 234,960.8 234.9,962.6 236.1,966.3 237,971.9 237.3,972.6 237.6,971.9 238.4,967.2 239.2,965.5 240.9,963.3 243.4,961.7 248.1,960.4 253.8,959.9 255.2,960.1 258.7,961.4 264,961.4 264.7,961.1 266.2,960 267.4,959.4 267.7,958 268.5,948.7 269.3,955.8 269.7,955.3 270.8,952 271.1,951.6 271.3,951.9 274,965.9 274.8,967.1 277.1,969.1 277.4,968.7 278.4,962.7 280.9,961.8 282.8,960 283.5,959.6 284.3,960 286.1,962.3 286.9,962.7 288.9,962.3 291.8,961 294.2,958.8 295.2,958.4 296.7,958.7 301.9,961.3 305.4,961.8 308.1,961.7 311.5,959.5 312.7,959.1 313.5,959.3 315.1,960.7 315.8,961 321.5,960.5"/>
<clipPath id="c26"><rect x="33.5" y="1007.3" width="290" height="73.4"/></clipPath>
<path id="p27" d="M35.5,1049 35.8,1045.1 35.9,1044.8 36.6,1044.5 65.1,1044.5 65.3,1004.5 65.5,1004.5 65.6,1009.1 65.7,1036.1 66.1,1038.6 66.7,1041 67.7,1046.4 68.5,1049.7 69,1050.9 69.3,1050.9 69.8,1050.3 71.4,1046.8 72.7,1045 75.1,1042.8 76.4,1042.2 77,1042.4 78.2,1044.1 78.7,1044.5 81.9,1044.5 83.9,1045.6 85.3,1045.5 89.3,1044.4 91.5,1043.4 93.5,1041.7 94.6,1040 95.1,1039.6 95.5,1040 96.3,1041.7 97.4,1043.1 101.3,1043.4 104.8,1044.8 106.2,1045 106.8,1044.3 107.4,1042.8 108.2,1030 108.8,1030.5 108.9,1031.5 109.4,1043.4 110.1,1046.3 110.7,1047.3 112.5,1046.7 115,1046.9 115.7,1046.4 117.5,1044.1 118.3,1043.7 119,1043.9 120.5,1044.8 121.2,1045.1 122.2,1044.9 125.5,1044 126.9,1044.1 128.5,1044.5 129.4,1045.1 131.4,1047.5 132.2,1047.9 132.7,1047.1 134.5,1041.2 135,1040.4 135.5,1041.1 137.2,1045.2 137.8,1045.9 141,1046.1 141.6,1045.7 143.2,1043.6 143.7,1043.4 144.3,1043.7 145.1,1044.8 146.2,1047 147.3,1051.9 147.7,1052.7 148.3,1052 149.8,1048.2 151.5,1045.7 152.8,1044.6 154.8,1043.9 155,1083.5 155.2,1083.5 155.3,1078.5 155.5,1050.1 155.9,1047.4 157.3,1042.1 158.3,1038.9 158.8,1038.1 159.3,1038.5 160.6,1041.2 162.1,1042.9 164.6,1044.9 166.2,1045.4 169,1044.3 173.6,1044.5 177.1,1043.9 177.7,1042.9 179.2,1038 179.5,1037.6 179.9,1037.8 181.2,1039.3 181.8,1040.8 182.8,1045 183.9,1052.2 184.3,1053.3 184.8,1052.9 185.6,1051.5 186.5,1047.9 186.8,1048.1 187.5,1050 188,1050 188.7,1049.5 189.6,1048.6 190.5,1046.3 191,1045.8 193.1,1044.6 194.2,1044.3 195,1044.3 195.8,1045.5 196.7,1048.5 198,1060.3 199.1,1046.4 199.7,1042.8 200.2,1041 200.8,1041.3 202.1,1043.5 202.6,1043.9 203.3,1043.7 205,1041.9 205.7,1041.6 206.2,1042.2 207.1,1044.8 207.6,1045.6 210.8,1045.1 213,1046.8 215.1,1047.3 217.2,1047.4 217.7,1047.2 218.3,1046.4 220.7,1041.7 221.2,1041.1 221.7,1041 222.4,1042.1 224,1046.7 224.4,1047.3 224.7,1047.4 225.3,1046.9 226.8,1044.1 227.5,1043.4 228.4,1043.6 230.3,1045.2 231.1,1045.6 232.4,1045.3 233.8,1044.3 234.9,1043.1 235.4,1042.2 237.5,1035.2 237.9,1035.4 238.4,1036.2 241.3,1043.4 242,1044.5 249.4,1045.5 250.1,1045.2 251.8,1044.1 252.5,1044 253.2,1044.7 254.7,1047.6 255.4,1048.2 256.1,1047.8 257.7,1045.2 260.3,1043.9 262.4,1043.6 264.9,1044.9 265.7,1045.1 267.5,1043.9 268.7,1051 269.9,1050.5 271.2,1049.1 272.7,1041.1 274.8,1040.3 276.6,1038.3 277.3,1037.8 277.5,1037.8 277.8,1038.4 278.7,1041.4 279.7,1042.9 283.4,1046.6 284.8,1047.4 285.3,1047.3 285.8,1046.6 288.2,1042.2 289.8,1041.3 291.3,1041 292,1041.1 292.7,1041.4 297.4,1044.9 298.7,1045.4 300.1,1045.2 303.4,1043.1 304.9,1042.8 305.5,1043.5 307,1046.9 307.6,1047.4 308.2,1046.9 309.7,1044 310.3,1043.3 311,1043.6 312.6,1045.7 313.3,1046.2 313.9,1046 315.1,1044.8 315.6,1044.5 316.5,1044.7 318.4,1046 319.2,1046.2 320,1046 321.5,1045.1"/>
<clipPath id="c28"><rect x="393.5" y="794.3" width="283" height="73.4"/></clipPath>
<path id="p29" d="M395.5,866.8 395.7,857.8 395.8,856.9 396.5,856.4 397.4,856.2 424.3,856.2 424.5,791.5 424.7,791.5 425,847.5 425.4,852.2 426.5,858.5 427.4,861.1 428.1,862.2 428.4,862.2 428.8,861.7 430.5,858 431.7,856.2 433.6,854.6 435.1,853.9 435.8,854 438.1,856.4 438.7,856.4 440.7,855.8 442.1,857.7 442.6,857.8 444.9,856.5 449.1,855.5 450.3,855 451.4,853.9 453,851.4 453.4,851.1 453.8,851.6 455.3,855.1 458.5,854.4 462.4,856.4 463.4,856.5 464.4,856.1 465,855.6 465.2,853.7 466.2,839.6 466.8,849.6 467.3,854.2 468,856.9 468.4,857.8 469,858.5 472.1,859.6 472.9,859.8 473.4,859.3 475.3,856.1 476.1,855.3 476.7,855.3 478.1,856.3 478.7,856.5 480.8,855.1 483.4,854.4 487.1,854.5 487.7,855.1 489.3,857.7 489.7,858.1 490,858.1 490.5,856.8 492.2,850.1 492.6,849.3 492.9,849.8 493.6,852.8 494.4,854.8 495.7,856 496.5,856.4 497.2,856.4 498.8,853.7 499.4,853.2 500.4,853.7 501.7,855.2 502.6,858.2 504.2,866.1 504.6,867 505,866.1 506.3,860 507.1,859 509.3,857 512,852.1 512.5,852.4 513.7,854.4 514.7,855.4 515.3,855.8 520.4,855.8 524.1,855.3 525.1,855.7 528.2,857.6 529,857.8 531.5,857.5 533.6,856.5 534,855.5 534.6,852.4 535.4,842.5 536.1,851.6 536.6,854.1 536.9,854.4 537.1,854 538,848.5 538.3,847.7 539.7,856.3 540.4,858.8 541.7,861.7 542.9,863.4 543.8,864 544.3,863.5 545.7,859.7 546.1,858.8 546.9,858.9 548.7,859.7 549.3,859.7 549.9,859.4 551.4,857.9 553.6,856.5 554.8,856.7 557,858.2 558,858.5 558.8,858.2 560.8,856.4 561.6,855.9 562.7,856.1 565.3,857.6 566.5,857.8 567.2,857.6 568.9,856.3 569.7,855.9 574,856.4 575.2,856.4 576.1,855.9 578.1,854.1 579.1,853.7 580,854 581.9,856 582.8,856.5 584.1,856.3 587.3,855.2 588.5,855.2 589.1,855.8 589.8,857.2 590.8,859.9 591.2,859.6 592.1,858 593.3,856.9 594.3,857 596.5,858.1 598.1,858.1 601.9,857.2 605.3,855.3 607.3,855.4 608.9,856.1 609.7,859.5 610,860.2 610.6,859.7 611.7,857.5 612.2,856.9 620.2,856.2 622.2,855.8 623.2,855.3 624.1,854.4 625.1,852.4 625.6,852.9 627.4,856.7 628.2,857.8 629.3,857.7 631.9,856.6 633.3,856.5 636.6,857.5 638.4,859.1 639.2,859.2 640.6,858.7 642,857.6 643.6,854.2 646.8,853.5 647.4,852.5 648.6,849.6 649.3,848.9 649.8,849.5 650.8,851.8 652,854 653.1,855.6 653.6,855.9 654.1,855.9 656.7,854.8 657.6,854.8 658.3,855.5 659.4,857.2 660.4,859.7 660.7,860.2 661.1,859.7 662,857.4 662.9,855.7 663.5,854.8 663.9,854.4 665.4,854.7 670.4,857.3 671.8,857.8 672.9,857.7 674.5,856.5"/>
<clipPath id="c30"><rect x="393.5" y="902.3" width="283" height="74.4"/></clipPath>
<path id="p31" d="M395.5,963.7 424,963.7 424.4,960.8 424.8,959.5 427.5,963.8 428.2,964.4 430.9,964.2 434.2,963.3 439,963.7 448.9,963.7 452.3,962.5 453.3,962.3 456,962.5 463,963.7 463.9,963.4 466.4,961.7 467,961.5 467.7,961.8 469.7,963.6 473.6,964 477.5,962.9 482.8,961.8 484.8,961.7 489,962 491.4,961.9 494.5,961.6 498.7,960.8 499.6,961.1 502.1,963 504.3,964.3 505.5,964.8 506.6,964.8 508,964.5 510.9,963.2 511.6,962.3 511.8,899.5 512,899.5 512.3,956.5 512.5,959.3 513.6,964.6 514.7,968.7 515.1,969.7 515.5,969.6 515.9,969.2 517.5,966.3 519.4,963.5 521.3,961.4 522.3,960.8 523,961.1 524.6,962.9 526.6,963.9 529.8,964.4 533.1,964.3 535.7,963.9 536.8,963.4 538.5,961.5 539.6,959.4 540,958.9 540.5,959.3 541.8,961.5 543,963 543.8,963.6 549.7,965.4 551.8,965.7 552.2,964.3 552.9,960.5 554,948 554.8,960.8 555.5,966.2 556.2,968.4 558,968.2 560.1,967.2 560.7,966.5 562.1,963.8 562.7,963.2 563.5,963.2 565.6,964.4 566.6,964.5 567.4,964.1 569.2,962.3 570,962 573.8,962.1 574.5,962.9 576.3,966.4 576.8,966.9 577.1,967 577.7,965.6 579,960.3 579.6,959.2 580.1,959.9 581.6,964 582.2,964.8 583,964.5 585,962.5 585.8,962 587.4,962.3 589.2,963.4 590,965.3 591.2,969.2 592.1,974.8 592.4,975.6 592.6,974.9 593.4,970.1 594.2,968.3 595.8,966.1 597,965.1 598.4,964.4 600.6,963.6 602.9,963 608.4,962.5 609.8,962.7 613.3,964.1 618.4,964.1 619.1,963.8 620.5,962.6 621.7,962.1 622,960.6 622.8,951 623.5,958.4 623.9,957.8 625,954.4 625.3,954 625.5,954.3 628.2,968.7 629,970 631.2,972 631.5,971.6 632.5,965.4 634.9,964.5 636.7,962.6 637.4,962.3 638.2,962.6 640,965 640.8,965.4 642.7,965 645.5,963.6 647.9,961.5 648.8,961 650.3,961.3 655.4,963.9 658.8,964.5 660.7,964.6 661.4,964.4 664.7,962.1 665.9,961.7 666.7,961.9 668.3,963.4 669,963.7 674.5,963.1"/>
<clipPath id="c32"><rect x="393.5" y="1010.3" width="283" height="74.4"/></clipPath>
<path id="p33" d="M395.5,1052.5 395.8,1048.6 395.9,1048.3 396.6,1048 424.3,1048 424.5,1007.5 424.7,1007.5 424.8,1012.1 425,1039.5 425.3,1042.1 425.9,1044.4 426.9,1050 427.7,1053.3 428.1,1054.5 428.4,1054.5 428.9,1053.9 430.6,1050.4 431.8,1048.6 434.2,1046.3 435.4,1045.6 436,1045.8 437.2,1047.6 437.6,1048 440.7,1048 442.7,1049.1 444,1049.1 448,1047.9 450.1,1046.9 452.1,1045.2 453.1,1043.4 453.6,1043 454,1043.5 454.8,1045.2 455.9,1046.6 459.7,1046.9 463.1,1048.4 464.5,1048.5 465.1,1047.8 465.6,1046.3 466.4,1033.3 467,1033.9 467.1,1034.9 467.6,1046.9 468.3,1049.8 468.8,1050.8 470.6,1050.3 473.1,1050.5 473.8,1049.9 475.5,1047.6 476.3,1047.2 477,1047.4 478.4,1048.3 479.1,1048.6 480.1,1048.5 483.3,1047.5 484.6,1047.6 486.3,1048 487.1,1048.6 489.1,1051 489.9,1051.4 490.3,1050.6 492.1,1044.7 492.6,1043.9 493.1,1044.5 494.7,1048.7 495.3,1049.4 498.4,1049.7 499,1049.2 500.6,1047.1 501.1,1046.9 501.7,1047.2 502.4,1048.3 503.5,1050.5 504.6,1055.5 505,1056.3 505.6,1055.6 507,1051.7 508.6,1049.3 509.9,1048.1 511.8,1047.4 512.1,1087.5 512.3,1087.5 512.4,1082.4 512.5,1053.7 512.9,1051 514.4,1045.6 515.3,1042.3 515.8,1041.5 516.3,1041.9 517.6,1044.6 519,1046.4 521.4,1048.4 523,1048.9 525.7,1047.8 530.3,1048 533.6,1047.4 534.2,1046.4 535.7,1041.5 536,1041 536.4,1041.2 537.6,1042.8 538.2,1044.2 539.2,1048.5 540.2,1055.8 540.6,1056.9 541.1,1056.5 541.9,1055.1 542.8,1051.5 543.1,1051.6 543.8,1053.6 544.3,1053.6 545,1053.1 545.9,1052.1 546.7,1049.8 547.2,1049.4 549.2,1048.1 550.3,1047.8 551.1,1047.8 551.9,1049.1 552.7,1052.1 554,1064 555.1,1050 555.6,1046.3 556.2,1044.5 556.8,1044.8 558.1,1047 558.5,1047.4 559.2,1047.2 560.9,1045.4 561.5,1045.1 562,1045.7 562.9,1048.3 563.4,1049.1 566.5,1048.6 568.6,1050.4 570.7,1050.8 572.8,1051 573.3,1050.7 573.8,1049.9 576.2,1045.1 576.7,1044.6 577.1,1044.5 577.8,1045.6 579.4,1050.3 579.8,1050.9 580,1050.9 580.6,1050.4 582.1,1047.6 582.8,1046.9 583.6,1047.1 585.6,1048.8 586.3,1049.1 587.6,1048.9 589,1047.8 590,1046.6 590.5,1045.7 592.5,1038.6 592.9,1038.8 593.4,1039.6 596.2,1046.9 596.9,1048 604.2,1049 604.8,1048.8 606.5,1047.6 607.2,1047.5 607.9,1048.2 609.3,1051.2 610,1051.8 610.7,1051.3 612.3,1048.7 614.8,1047.4 615.9,1047.1 616.9,1047.1 619.3,1048.4 620.1,1048.6 621.8,1047.4 623,1054.6 624.1,1054.1 625.4,1052.6 626.9,1044.6 629,1043.8 630.7,1041.7 631.4,1041.2 631.6,1041.3 631.9,1041.8 632.7,1044.9 633.7,1046.4 637.3,1050.1 638.7,1050.9 639.1,1050.9 639.7,1050.2 642,1045.6 643.6,1044.8 645,1044.4 645.7,1044.5 646.4,1044.8 651,1048.4 652.2,1049 653.6,1048.7 656.9,1046.6 658.3,1046.3 658.9,1047 660.4,1050.4 660.9,1051 661.5,1050.5 663,1047.5 663.6,1046.8 664.2,1047.1 665.8,1049.2 666.5,1049.8 667,1049.6 668.3,1048.3 668.8,1048 669.7,1048.2 671.5,1049.5 672.3,1049.8 673,1049.6 674.5,1048.6"/>
</defs>
<rect width="685" height="1146" fill="#fff"/>
<path d="M82.83 23.5V94.5M121.17 23.5V94.5M159.5 23.5V94.5M197.83 23.5V94.5M236.17 23.5V94.5M274.5 23.5V94.5M312.83 23.5V94.5M44.5 84.47H320.5M44.5 57.01H320.5M44.5 29.54H320.5" stroke="#efefef" stroke-width="1.5" fill="none"/>
<path d="M44.5 94.5v-3M44.5 23.5v3M82.83 94.5v-3M82.83 23.5v3M121.17 94.5v-3M121.17 23.5v3M159.5 94.5v-3M159.5 23.5v3M197.83 94.5v-3M197.83 23.5v3M236.17 94.5v-3M236.17 23.5v3M274.5 94.5v-3M274.5 23.5v3M312.83 94.5v-3M312.83 23.5v3M44.5 84.47h3M320.5 84.47h-3M44.5 57.01h3M320.5 57.01h-3M44.5 29.54h3M320.5 29.54h-3" stroke="#8a8a8a" stroke-width="1" fill="none"/>
<text x="44.5" y="109.5" class="tk" text-anchor="middle" textLength="5.75" lengthAdjust="spacingAndGlyphs">0</text>
<text x="82.83" y="109.5" class="tk" text-anchor="middle" textLength="17.25" lengthAdjust="spacingAndGlyphs">200</text>
<text x="121.17" y="109.5" class="tk" text-anchor="middle" textLength="17.25" lengthAdjust="spacingAndGlyphs">400</text>
<text x="159.5" y="109.5" class="tk" text-anchor="middle" textLength="17.25" lengthAdjust="spacingAndGlyphs">600</text>
<text x="197.83" y="109.5" class="tk" text-anchor="middle" textLength="17.25" lengthAdjust="spacingAndGlyphs">800</text>
<text x="236.17" y="109.5" class="tk" text-anchor="middle" textLength="23" lengthAdjust="spacingAndGlyphs">1000</text>
<text x="274.5" y="109.5" class="tk" text-anchor="middle" textLength="23" lengthAdjust="spacingAndGlyphs">1200</text>
<text x="312.83" y="109.5" class="tk" text-anchor="middle" textLength="23" lengthAdjust="spacingAndGlyphs">1400</text>
<text x="40.2" y="88.87" class="tk" text-anchor="end" textLength="5.75" lengthAdjust="spacingAndGlyphs">0</text>
<text x="40.2" y="61.41" class="tk" text-anchor="end" textLength="5.75" lengthAdjust="spacingAndGlyphs">2</text>
<text x="40.2" y="33.94" class="tk" text-anchor="end" textLength="5.75" lengthAdjust="spacingAndGlyphs">4</text>
<text x="44.9" y="21.9" class="ex" style="font-size:15px">&#215;</text>
<text x="54.1" y="20.5" class="ex">10</text>
<text x="66.4" y="15" class="ex" style="font-size:8.5px">-3</text>
<g transform="translate(23.5 84) rotate(-90)">
<text x="-0.2" y="0" class="ylD">&#916;</text>
<text x="10.5" y="0" class="yl">F</text>
<text x="18.6" y="6.2" class="yl" style="font-size:9.5px">1</text>
<text x="28.1" y="0" class="yl">(pu)</text>
</g>
<rect x="44.5" y="23.5" width="276" height="71" stroke="#8a8a8a" stroke-width="1.1" fill="none"/>
<g clip-path="url(#c1)">
<path class="r" d="M44.5,94.8 44.7,85.8 44.8,84.9 45.2,84.5 73,84.2 73.2,19.5 73.4,19.5 73.6,80.4 74.1,87.9 74.3,89.3 74.6,90 75.5,89.9 77.3,87 79.8,84.4 80.5,83.8 84,83.5 88.8,85.3 90.6,85.4 93.3,84.5 96.6,83.8 98,83.3 99.4,82.3 100.7,80.2 101.2,79.7 101.5,79.9 102.9,82.5 103.6,83.3 107,83.9 110.7,85 112,85.1 112.7,84.1 113.5,81.7 114.3,72.1 114.7,72.9 115.2,76.2 115.8,84.5 116.3,88.4 116.6,89.3 117,89 118,87.3 122.1,86.7 123.8,84.2 124.4,83.8 129.1,83.5 133.2,82.8 134.2,83.3 136.4,85.2 137.4,85.4 137.9,84.6 139.8,79.5 140.1,79 140.5,79.5 141.5,82.4 142.3,84.2 142.8,84.8 143.2,84.9 143.8,84.5 145.9,82 146.4,81.7 146.8,81.8 147.8,82.6 151.5,87.4 152.2,87.9 152.8,87.8 153.6,87.4 155.4,85.8 157.1,84.7 158,83.8 158.3,82.4 159.7,74.3 160.1,73.2 160.5,73.9 161,76.2 161.9,83.9 162.5,86.8 162.9,87.9 163.3,87.6 164.6,85.2 166.1,84.5 167.7,84 169.8,83.8 173.2,84.9 176.4,84.7 179.4,84.3 180.7,83.7 181.4,82.8 182.7,71.4 183.5,79 185,80.6 186.4,83.6 187,84.4 187.4,84.4 188.2,83.2 188.4,83.1 188.6,83.3 189.8,87.3 190.2,87.9 191.6,87.2 193.2,85.5 197.3,85.8 198.1,85.6 199,85.1 199.8,84.3 201.2,80.4 201.7,79.7 202.1,80.3 204.1,87.2 204.4,88 204.7,88.2 205.2,87.9 206.5,86.5 208.5,85.2 209.7,84.6 211,84.5 213.7,85.1 214.9,85.1 219.1,84 220.4,83.8 225.2,84.5 235.7,83.8 236.5,84.3 237.7,85.8 238.9,88.2 239.4,88.1 241,87.2 242.5,87.9 243.1,87.5 244.7,85.2 248.4,84.3 252,84.1 255.5,85.6 256.8,85.8 258.2,85.6 262.1,84.5 268.4,84.1 268.8,83.4 270,80.4 270.9,79.9 271.6,79.7 272.1,80.2 273.2,83.3 274.4,86.2 274.9,87 275.3,87.2 277.5,86.1 286,85.7 287.2,85.2 290.7,83.2 293.6,82.1 295.1,81.7 295.8,81.8 296.5,82.1 299.7,84.4 303.5,85.9 306,86.5 308.4,86.3 312.6,84.9 314.2,84.5 320.5,84.5"/>
<path class="k" d="M44.5,94.8 44.7,85.8 44.8,84.9 45.2,84.5 73,84.2 73.2,19.5 73.4,19.5 73.6,77.6 73.9,82.2 74.3,85.2 75.1,88.5 75.9,90.9 76.3,91.3 77.8,87.5 79.7,84.7 80.5,83.9 83.9,83.5 88.8,85.3 89.8,85.4 90.7,85.3 93.3,84.5 96.7,83.8 98.3,83.2 99.5,82.2 100.7,79.8 101.2,79.3 101.6,79.8 102.4,81.7 103.6,83.3 107,83.9 110.7,85 112.1,85.1 112.7,84.1 113.5,81.7 114.3,69.4 115,72.1 115.6,70.7 116.1,82.5 116.7,85.2 117.8,87.1 119.4,87.2 122,86.8 122.6,86.2 123.8,84.2 124.3,83.8 129.2,83.5 132.6,82.8 133.8,83.1 136.3,85.1 137.4,85.4 138.1,84.1 139.8,79.1 140.1,78.6 140.5,79.2 141.5,82.4 142.3,84.2 142.8,84.8 143.2,84.9 143.7,84.6 145.5,82.3 146.3,81.8 147.2,82 148.3,83.1 150.3,86 151.3,88.1 151.6,89.4 152.3,93.6 152.6,94.4 153,93.5 153.8,90 155,86.9 157,84.8 158.8,83.6 159.7,83.4 160.6,83.5 163.5,84.7 164.7,84.9 169.3,83.8 172.9,84.9 175.7,84.8 179.2,84.3 180.8,83.6 181.3,83.1 181.5,82.2 182.7,71 183.5,77.6 185.6,77.6 185.8,77.9 187.2,85.8 187.7,85.7 189.1,84 189.7,83.9 191.1,89.8 191.5,90.7 191.8,90.2 193,86 193.4,85.4 194.3,85.6 196.9,86.8 197.9,86.7 201.7,85.8 206.5,86.8 207.3,86.5 209.4,84.9 210.4,84.5 214.6,85.6 215.8,85.3 218.8,84.1 220.2,83.8 225.2,84.5 227.4,83.8 235.6,83.8 236.5,84.2 238.5,85.9 239.8,86.1 244.5,85.8 249.5,84.3 251.5,84.1 252.7,84.5 255.6,86.5 256.9,86.8 258.2,86.4 262,84.5 268.6,84 269.2,83.4 270.9,81.1 271.6,80.6 272.1,81 273.6,83.9 274.9,84.9 276.6,85.9 277.5,86.1 280,86.3 285.5,86.5 287.1,85.8 290.6,83 293.6,81.1 294.1,80.4 294.9,78.2 295.4,77.6 296.4,81 297.5,82.8 298.5,83.9 299.1,84.3 299.8,84.5 302.7,83.8 303.5,83.9 304.3,84.5 306,87 306.7,87.5 307.1,87.5 307.6,87.1 309.5,84.4 310.2,83.8 314.6,84.5 320.5,84.5"/>
</g>
<path d="M82.83 131.5V201.5M121.17 131.5V201.5M159.5 131.5V201.5M197.83 131.5V201.5M236.17 131.5V201.5M274.5 131.5V201.5M312.83 131.5V201.5M44.5 190.02H320.5M44.5 162.02H320.5M44.5 134.02H320.5" stroke="#efefef" stroke-width="1.5" fill="none"/>
<path d="M44.5 201.5v-3M44.5 131.5v3M82.83 201.5v-3M82.83 131.5v3M121.17 201.5v-3M121.17 131.5v3M159.5 201.5v-3M159.5 131.5v3M197.83 201.5v-3M197.83 131.5v3M236.17 201.5v-3M236.17 131.5v3M274.5 201.5v-3M274.5 131.5v3M312.83 201.5v-3M312.83 131.5v3M44.5 190.02h3M320.5 190.02h-3M44.5 162.02h3M320.5 162.02h-3M44.5 134.02h3M320.5 134.02h-3" stroke="#8a8a8a" stroke-width="1" fill="none"/>
<text x="44.5" y="216.5" class="tk" text-anchor="middle" textLength="5.75" lengthAdjust="spacingAndGlyphs">0</text>
<text x="82.83" y="216.5" class="tk" text-anchor="middle" textLength="17.25" lengthAdjust="spacingAndGlyphs">200</text>
<text x="121.17" y="216.5" class="tk" text-anchor="middle" textLength="17.25" lengthAdjust="spacingAndGlyphs">400</text>
<text x="159.5" y="216.5" class="tk" text-anchor="middle" textLength="17.25" lengthAdjust="spacingAndGlyphs">600</text>
<text x="197.83" y="216.5" class="tk" text-anchor="middle" textLength="17.25" lengthAdjust="spacingAndGlyphs">800</text>
<text x="236.17" y="216.5" class="tk" text-anchor="middle" textLength="23" lengthAdjust="spacingAndGlyphs">1000</text>
<text x="274.5" y="216.5" class="tk" text-anchor="middle" textLength="23" lengthAdjust="spacingAndGlyphs">1200</text>
<text x="312.83" y="216.5" class="tk" text-anchor="middle" textLength="23" lengthAdjust="spacingAndGlyphs">1400</text>
<text x="40.2" y="194.42" class="tk" text-anchor="end" textLength="5.75" lengthAdjust="spacingAndGlyphs">0</text>
<text x="40.2" y="166.42" class="tk" text-anchor="end" textLength="5.75" lengthAdjust="spacingAndGlyphs">2</text>
<text x="40.2" y="138.42" class="tk" text-anchor="end" textLength="5.75" lengthAdjust="spacingAndGlyphs">4</text>
<text x="44.9" y="129.9" class="ex" style="font-size:15px">&#215;</text>
<text x="54.1" y="128.5" class="ex">10</text>
<text x="66.4" y="123" class="ex" style="font-size:8.5px">-3</text>
<g transform="translate(23.5 191.5) rotate(-90)">
<text x="-0.2" y="0" class="ylD">&#916;</text>
<text x="10.5" y="0" class="yl">F</text>
<text x="18.6" y="6.2" class="yl" style="font-size:9.5px">2</text>
<text x="28.1" y="0" class="yl">(pu)</text>
</g>
<rect x="44.5" y="131.5" width="276" height="70" stroke="#8a8a8a" stroke-width="1.1" fill="none"/>
<g clip-path="url(#c2)">
<path class="r" d="M44.5,191.1 45.5,190 72.3,190 72.7,187.7 73.3,180 73.5,179.3 73.8,179 74.2,179.6 74.5,180.8 75.1,187.8 75.6,191.3 76.1,192.8 76.7,193.7 77.2,194.1 77.6,193.8 78.3,192.2 78.9,191.7 82.5,189.2 83.9,188.6 85.3,188.8 88.9,190 92.6,190.6 95.2,190.7 97.2,189.9 99.3,188.5 101.1,186.8 101.9,186.5 103.6,187.3 105.4,188.6 107.6,189.5 109.7,190 111.4,189.9 112.4,189.4 113.5,188.6 114.4,184 114.7,183.3 115.2,183 115.8,184.4 117,189.8 117.7,191 118.2,191.4 122.2,191.4 125.3,189.3 128.2,188.7 130.8,188.3 133.3,188.3 137,189.4 138.5,189.6 139.2,189.1 140.6,187.3 141.3,186.9 142.1,187.2 144.5,188.6 148.3,188.6 148.9,188.8 149.9,189.5 153.2,192.8 154,192.7 155.1,192.3 157.9,190.6 158.5,189.9 159.1,188.6 159.3,127.5 159.5,127.5 159.7,183 160.1,186.9 161.2,192.8 161.8,194.2 163,194.2 164.1,190.7 165.9,189.3 167.7,188.4 169.4,188 170.9,188 172,188.4 174.4,190 175.4,190.3 182.6,190 183.6,189.2 185.8,185.7 186.2,185.3 186.7,185.1 187.1,185.5 187.5,186.4 189.5,192.8 190.1,192.7 191.4,191.4 192,191.1 199.1,191.9 199.6,190.7 200.1,187.6 200.7,178.8 201.1,176 202.1,188.6 202.8,193.5 203.5,195.6 204.2,195.5 205,195.2 207.3,193.4 209.1,190.3 209.8,189.6 210.7,189.6 212.8,190.7 213.7,190.8 214.5,190.4 216.3,188.7 217.1,188.3 220.9,188.4 221.6,189.3 223.3,192.6 223.8,193.1 224.2,193.2 224.8,191.9 226,186.7 226.6,185.7 227.2,186.3 228.6,190.3 229.2,191.1 230,190.8 231.9,188.8 232.7,188.4 234.2,188.6 236,189.6 236.8,191.3 238.1,195.3 238.9,200.5 239.2,201.2 239.5,200.5 240.3,196.2 241.2,194.3 242.9,192.2 245.3,190.6 249.8,189.3 255.2,188.9 256.6,189.1 259.9,190.4 265,190.4 265.7,190.1 267.1,189 268.3,188.4 268.6,187 269.3,177.4 270.1,184.4 270.5,184.2 271.6,183.1 271.9,183.1 272.1,183.3 274.7,194.9 275.6,196.4 276.3,197 277.1,196.8 277.9,196.2 278.9,191.7 281.3,190.8 283.1,189 283.8,188.6 284.6,189 286.4,191.3 287.1,191.7 289.1,191.3 291.8,190 294.1,187.8 295.1,187.4 296.5,187.7 301.6,190.3 305,190.8 307.6,190.7 310.8,188.5 312,188.1 312.7,188.3 314.4,189.7 315,190 320.5,189.5"/>
<path class="k" d="M44.5,190.7 45.5,190 72.7,190 73.2,188.6 73.8,187.9 74.2,188.1 75.1,189.2 75.8,189.8 77.1,190.4 78.4,190.7 80.2,190 83.4,189.4 84.8,189.4 88.1,190 89.8,190 101.3,188.6 104.2,188.8 111.3,190 112.3,189.7 114.4,188.5 115.3,188.3 116,188.6 117.8,189.9 119.7,190.8 121,191.3 121.9,191.4 122.9,191.1 125.2,189.4 128.6,188.6 130.9,188.3 133,188.2 137.1,189.4 138.4,189.6 139.1,189.4 140.7,188.1 141.3,187.9 144.5,188.6 148.7,188.7 149.7,189.2 152,191 153.1,191.4 155.5,191.3 157.5,190.8 158.3,190.1 159.1,188.6 159.3,127.5 159.5,127.5 159.7,183 160,187.2 160.4,189.6 161.4,193.4 161.9,194.4 162.3,194.8 162.8,194.3 164,190.8 165.6,189.7 167.4,188.8 169.2,188.3 170.8,188.2 171.9,188.6 174.4,190 175.4,190.3 182.6,190 183.6,189.2 185.8,186 186.6,185.4 186.9,185.5 187.3,186 188.8,190.1 189.5,191.1 193,191.2 197.4,191.9 199.1,191.9 199.6,190.7 200.1,187.6 201.1,175.5 202,187.9 202.8,192.6 203.5,194.2 205.4,194 207.4,193.4 208,192.7 209.3,190.1 209.9,189.5 210.7,189.6 212.8,190.7 213.7,190.8 214.5,190.4 216.3,188.7 217.2,188.3 220.9,188.4 221.6,189.3 223.3,192.6 223.8,193.1 224.2,193.2 224.8,191.9 226,186.7 226.6,185.7 227.2,186.3 228.6,190.3 229.2,191.1 230,190.8 231.9,188.8 232.7,188.4 234.2,188.6 236,189.6 236.8,191.3 238.1,195.3 238.9,200.5 239.2,201.2 239.5,200.5 240.3,196.2 241.2,194.3 242.9,192.2 245.3,190.6 249.8,189.3 255.2,188.9 256.6,189.1 259.9,190.4 265,190.4 265.7,190.1 267.1,189 268.3,188.4 268.6,187 269.3,177.7 270.1,184.8 270.5,184.4 271.5,181.9 271.8,181.6 272,181.8 274.7,194.9 275.7,196.5 277.6,197.7 277.8,197.7 277.9,197.3 278.9,191.7 281.3,190.8 283.1,189 283.8,188.6 284.6,189 286.4,191.3 287.1,191.7 289.1,191.3 291.8,190 294.1,187.8 295.1,187.4 296.5,187.7 301.6,190.3 305,190.8 307.6,190.7 310.8,188.5 312,188.1 312.7,188.3 314.4,189.7 315,190 320.5,189.5"/>
</g>
<rect x="44.5" y="237.5" width="276" height="71" stroke="#8a8a8a" stroke-width="1.1" fill="none"/>
<path d="M82.83 237.5V308.5M121.17 237.5V308.5M159.5 237.5V308.5M197.83 237.5V308.5M236.17 237.5V308.5M274.5 237.5V308.5M312.83 237.5V308.5M44.5 308.5H320.5M44.5 273H320.5M44.5 237.5H320.5" stroke="#efefef" stroke-width="1.5" fill="none"/>
<path d="M44.5 308.5v-3M44.5 237.5v3M82.83 308.5v-3M82.83 237.5v3M121.17 308.5v-3M121.17 237.5v3M159.5 308.5v-3M159.5 237.5v3M197.83 308.5v-3M197.83 237.5v3M236.17 308.5v-3M236.17 237.5v3M274.5 308.5v-3M274.5 237.5v3M312.83 308.5v-3M312.83 237.5v3M44.5 308.5h3M320.5 308.5h-3M44.5 273h3M320.5 273h-3M44.5 237.5h3M320.5 237.5h-3" stroke="#8a8a8a" stroke-width="1" fill="none"/>
<text x="44.5" y="323.5" class="tk" text-anchor="middle" textLength="5.75" lengthAdjust="spacingAndGlyphs">0</text>
<text x="82.83" y="323.5" class="tk" text-anchor="middle" textLength="17.25" lengthAdjust="spacingAndGlyphs">200</text>
<text x="121.17" y="323.5" class="tk" text-anchor="middle" textLength="17.25" lengthAdjust="spacingAndGlyphs">400</text>
<text x="159.5" y="323.5" class="tk" text-anchor="middle" textLength="17.25" lengthAdjust="spacingAndGlyphs">600</text>
<text x="197.83" y="323.5" class="tk" text-anchor="middle" textLength="17.25" lengthAdjust="spacingAndGlyphs">800</text>
<text x="236.17" y="323.5" class="tk" text-anchor="middle" textLength="23" lengthAdjust="spacingAndGlyphs">1000</text>
<text x="274.5" y="323.5" class="tk" text-anchor="middle" textLength="23" lengthAdjust="spacingAndGlyphs">1200</text>
<text x="312.83" y="323.5" class="tk" text-anchor="middle" textLength="23" lengthAdjust="spacingAndGlyphs">1400</text>
<text x="40.2" y="312.9" class="tk" text-anchor="end" textLength="9.2" lengthAdjust="spacingAndGlyphs">-2</text>
<text x="40.2" y="277.4" class="tk" text-anchor="end" textLength="5.75" lengthAdjust="spacingAndGlyphs">0</text>
<text x="40.2" y="241.9" class="tk" text-anchor="end" textLength="5.75" lengthAdjust="spacingAndGlyphs">2</text>
<text x="44.9" y="235.9" class="ex" style="font-size:15px">&#215;</text>
<text x="54.1" y="234.5" class="ex">10</text>
<text x="66.4" y="229" class="ex" style="font-size:8.5px">-3</text>
<g transform="translate(19.8 302.6) rotate(-90)">
<text x="-0.2" y="0" class="ylD">&#916;</text>
<text x="10.5" y="0" class="yl">Pt</text>
<text x="23.6" y="5.8" class="yl" style="font-size:9.8px">12</text>
<text x="36.4" y="0" class="yl">(pu)</text>
</g>
<g clip-path="url(#c3)">
<path class="r" d="M44.5,275.3 46.3,272.9 47.5,272.1 49.3,273 72.3,273 72.9,264.1 73.3,249.9 73.8,245 74.4,251.7 75,269.4 75.5,277.3 76.2,282.9 76.6,284.4 77,285.2 77.2,285.2 77.4,284.7 78.2,280.1 80,273.7 80.3,273 81.3,272 82.9,270.9 83.7,270.7 84.2,270.8 86.7,273.8 87.1,274.1 88.1,274 91.3,273 95,272.4 96.7,271.8 99.2,270.3 101.1,267.7 102,267.1 102.5,267.9 103.7,272.7 104.2,273.7 104.9,273.5 106.4,271.7 107.1,271.2 107.8,271.4 110,273 111,272.9 112,272.4 113.1,271.2 113.3,270.6 114.7,259.4 115,257.7 115.3,258.6 115.8,262.4 116.9,276.3 117.3,279.7 117.8,279.3 119.9,275.2 121.5,273.1 122.8,271.4 123.9,270.7 124.4,270.7 125,271.1 126.8,273.4 127.6,274 128.4,273.9 130.6,272 131.1,271.8 131.6,271.8 133.1,272.5 136.3,275.2 137.1,275.6 137.7,275.6 138.5,274.1 140.2,267.5 140.5,267 140.9,267.6 142.7,273.9 143.5,275.3 144.1,275.2 144.8,274.6 147.9,271 148.8,270.7 149.3,271 150.1,272.2 151,274.3 151.9,276.8 152.7,280 153,280.5 153.4,279.7 154.1,276.6 155.5,273.5 157.3,271.8 158.2,271.4 158.9,271.2 160.1,299.3 160.5,294.5 161.5,271.8 162.5,264 162.9,261.9 163.1,261.3 163.4,261.7 163.8,263.4 165.3,272.8 166.1,273.4 167.3,273.8 170.3,273.8 180.5,272.4 181.1,271.5 182.3,268.1 183.6,265.4 183.8,265.2 184.2,265.2 185.1,265.8 186.3,267.7 186.6,268.9 187.3,274.8 188,284.5 188.2,286.5 188.5,286 189.2,283.6 190.3,281.5 191.2,274 193.1,273.7 196.4,271.8 197.2,271.8 197.9,272.1 199,273.3 199.8,275.1 201.3,289.3 201.7,286.7 202.8,271.2 203.5,266.3 204,264.8 204.3,265.4 205,269.2 205.8,270.8 206.4,271.2 208.2,270.6 208.8,270.6 209.2,271.4 210.5,274.7 211.1,275.3 215.2,274.8 220.6,274.7 221.5,273.7 224,268.5 224.3,268.1 224.6,268.1 225,268.9 226.8,275.5 227.3,276.6 228.1,275.9 229.9,271.9 230.7,271.1 231.1,271.1 231.5,271.5 233,274.1 233.6,274.7 234.3,274.7 235.3,274 236.7,272.1 237.2,271.2 238.6,267.4 239.2,264.8 239.6,264.1 240,264.3 240.5,264.8 241.5,267 242.6,269.7 243.6,274.1 244.1,275.3 244.4,275.1 245,273.9 246.2,273.3 251.7,271.9 253.3,271.8 254.1,272.6 255.9,276.6 256.7,277.3 257.3,276.6 258.8,273.2 259.4,272.2 260.9,271.7 262.6,271.6 264.6,272 266.8,273.2 269.9,278.3 271.1,278.3 272.4,278 272.8,276.9 274.5,267.4 275.1,265.9 275.5,266.2 276.7,268.5 278.2,268 278.7,268.2 281.1,272.9 283,274.6 284.4,275.3 284.9,275.2 285.5,274.8 288.1,270.8 288.7,270.2 289.3,270 291.6,270.2 294,270.9 296.4,272.2 298.3,273.7 299.1,274.1 300.2,273.6 302.5,271.3 303.4,271.1 304.4,271.8 306.5,274.7 307.4,275.3 307.9,274.9 309.2,272.2 309.8,271.6 310.4,272.2 311.9,274.9 312.4,275.3 313,274.9 314.3,272.5 314.8,271.9 315.8,272.2 317.8,273.6 318.7,274 319.4,273.9 320.5,273"/>
<path class="k" d="M44.5,274.8 45.6,273.3 46,273 72.5,273 73.6,263.1 74.3,266.5 75.1,272.7 75.8,274.2 76.6,274.8 77.3,274.5 78.9,273 81.1,272.4 83,272.1 84.6,272.2 87.4,273.3 88.6,273.5 90.4,273.4 98.5,271.9 101.2,271.6 103.1,271.7 107.4,272.6 112,272.4 113.6,272.1 114.7,269.9 115,269.4 116.2,273 117.4,273.6 118.8,273.9 120.3,273.7 123.6,272.4 124.9,272.1 133,273.3 136.6,273.5 137.5,273.2 139.5,271.8 140.3,271.6 141.3,271.9 143.6,273.4 145,273.6 152.1,273.9 157.6,273 158.3,273.8 159.1,276.6 159.9,282.8 161.6,273.5 162.5,271.8 163.1,271.2 164,271.5 166.1,273 167.1,273.4 172.2,273.2 178.7,272.6 183.7,271.6 184.5,271.8 186.4,273.5 187.2,273.9 188,273.8 190.2,273 193.5,272.6 196.1,272.5 197.4,273 200.1,275.3 201.3,275.7 201.9,275 203.1,272 203.6,271.6 204.8,271.8 207.9,273.2 209.3,273.5 216.8,272.7 224.4,272.1 226.5,272.3 230.9,273.2 232.6,273.3 234.2,273 238,271.5 239.6,271.2 240.7,271.6 243,273.1 243.8,273.4 256.3,273 270.8,273.9 271.8,273.6 274.1,272.2 275.1,271.9 280.2,273 293.7,272.6 320.5,273"/>
</g>
<text x="182.5" y="338.3" class="xl" text-anchor="middle" textLength="44" lengthAdjust="spacingAndGlyphs">Time (s)</text>
<path d="M443.83 23.5V94.5M482.17 23.5V94.5M520.5 23.5V94.5M558.83 23.5V94.5M597.17 23.5V94.5M635.5 23.5V94.5M673.83 23.5V94.5M405.5 84.47H681.5M405.5 57.01H681.5M405.5 29.54H681.5" stroke="#efefef" stroke-width="1.5" fill="none"/>
<path d="M405.5 94.5v-3M405.5 23.5v3M443.83 94.5v-3M443.83 23.5v3M482.17 94.5v-3M482.17 23.5v3M520.5 94.5v-3M520.5 23.5v3M558.83 94.5v-3M558.83 23.5v3M597.17 94.5v-3M597.17 23.5v3M635.5 94.5v-3M635.5 23.5v3M673.83 94.5v-3M673.83 23.5v3M405.5 84.47h3M681.5 84.47h-3M405.5 57.01h3M681.5 57.01h-3M405.5 29.54h3M681.5 29.54h-3" stroke="#8a8a8a" stroke-width="1" fill="none"/>
<text x="405.5" y="109.5" class="tk" text-anchor="middle" textLength="5.75" lengthAdjust="spacingAndGlyphs">0</text>
<text x="443.83" y="109.5" class="tk" text-anchor="middle" textLength="17.25" lengthAdjust="spacingAndGlyphs">200</text>
<text x="482.17" y="109.5" class="tk" text-anchor="middle" textLength="17.25" lengthAdjust="spacingAndGlyphs">400</text>
<text x="520.5" y="109.5" class="tk" text-anchor="middle" textLength="17.25" lengthAdjust="spacingAndGlyphs">600</text>
<text x="558.83" y="109.5" class="tk" text-anchor="middle" textLength="17.25" lengthAdjust="spacingAndGlyphs">800</text>
<text x="597.17" y="109.5" class="tk" text-anchor="middle" textLength="23" lengthAdjust="spacingAndGlyphs">1000</text>
<text x="635.5" y="109.5" class="tk" text-anchor="middle" textLength="23" lengthAdjust="spacingAndGlyphs">1200</text>
<text x="673.83" y="109.5" class="tk" text-anchor="middle" textLength="23" lengthAdjust="spacingAndGlyphs">1400</text>
<text x="401.2" y="88.87" class="tk" text-anchor="end" textLength="5.75" lengthAdjust="spacingAndGlyphs">0</text>
<text x="401.2" y="61.41" class="tk" text-anchor="end" textLength="5.75" lengthAdjust="spacingAndGlyphs">2</text>
<text x="401.2" y="33.94" class="tk" text-anchor="end" textLength="5.75" lengthAdjust="spacingAndGlyphs">4</text>
<text x="405.9" y="21.9" class="ex" style="font-size:15px">&#215;</text>
<text x="415.1" y="20.5" class="ex">10</text>
<text x="427.4" y="15" class="ex" style="font-size:8.5px">-3</text>
<g transform="translate(384.5 84) rotate(-90)">
<text x="-0.2" y="0" class="ylD">&#916;</text>
<text x="10.5" y="0" class="yl">F</text>
<text x="18.6" y="6.2" class="yl" style="font-size:9.5px">1</text>
<text x="28.1" y="0" class="yl">(pu)</text>
</g>
<rect x="405.5" y="23.5" width="276" height="71" stroke="#8a8a8a" stroke-width="1.1" fill="none"/>
<g clip-path="url(#c4)">
<use href="#p5" class="r"/>
<use href="#p5" class="b"/>
<use href="#p5" class="k"/>
</g>
<path d="M443.83 131.5V201.5M482.17 131.5V201.5M520.5 131.5V201.5M558.83 131.5V201.5M597.17 131.5V201.5M635.5 131.5V201.5M673.83 131.5V201.5M405.5 190.02H681.5M405.5 162.02H681.5M405.5 134.02H681.5" stroke="#efefef" stroke-width="1.5" fill="none"/>
<path d="M405.5 201.5v-3M405.5 131.5v3M443.83 201.5v-3M443.83 131.5v3M482.17 201.5v-3M482.17 131.5v3M520.5 201.5v-3M520.5 131.5v3M558.83 201.5v-3M558.83 131.5v3M597.17 201.5v-3M597.17 131.5v3M635.5 201.5v-3M635.5 131.5v3M673.83 201.5v-3M673.83 131.5v3M405.5 190.02h3M681.5 190.02h-3M405.5 162.02h3M681.5 162.02h-3M405.5 134.02h3M681.5 134.02h-3" stroke="#8a8a8a" stroke-width="1" fill="none"/>
<text x="405.5" y="216.5" class="tk" text-anchor="middle" textLength="5.75" lengthAdjust="spacingAndGlyphs">0</text>
<text x="443.83" y="216.5" class="tk" text-anchor="middle" textLength="17.25" lengthAdjust="spacingAndGlyphs">200</text>
<text x="482.17" y="216.5" class="tk" text-anchor="middle" textLength="17.25" lengthAdjust="spacingAndGlyphs">400</text>
<text x="520.5" y="216.5" class="tk" text-anchor="middle" textLength="17.25" lengthAdjust="spacingAndGlyphs">600</text>
<text x="558.83" y="216.5" class="tk" text-anchor="middle" textLength="17.25" lengthAdjust="spacingAndGlyphs">800</text>
<text x="597.17" y="216.5" class="tk" text-anchor="middle" textLength="23" lengthAdjust="spacingAndGlyphs">1000</text>
<text x="635.5" y="216.5" class="tk" text-anchor="middle" textLength="23" lengthAdjust="spacingAndGlyphs">1200</text>
<text x="673.83" y="216.5" class="tk" text-anchor="middle" textLength="23" lengthAdjust="spacingAndGlyphs">1400</text>
<text x="401.2" y="194.42" class="tk" text-anchor="end" textLength="5.75" lengthAdjust="spacingAndGlyphs">0</text>
<text x="401.2" y="166.42" class="tk" text-anchor="end" textLength="5.75" lengthAdjust="spacingAndGlyphs">2</text>
<text x="401.2" y="138.42" class="tk" text-anchor="end" textLength="5.75" lengthAdjust="spacingAndGlyphs">4</text>
<text x="405.9" y="129.9" class="ex" style="font-size:15px">&#215;</text>
<text x="415.1" y="128.5" class="ex">10</text>
<text x="427.4" y="123" class="ex" style="font-size:8.5px">-3</text>
<g transform="translate(384.5 191.5) rotate(-90)">
<text x="-0.2" y="0" class="ylD">&#916;</text>
<text x="10.5" y="0" class="yl">F</text>
<text x="18.6" y="6.2" class="yl" style="font-size:9.5px">2</text>
<text x="28.1" y="0" class="yl">(pu)</text>
</g>
<rect x="405.5" y="131.5" width="276" height="70" stroke="#8a8a8a" stroke-width="1.1" fill="none"/>
<g clip-path="url(#c6)">
<use href="#p7" class="r"/>
<use href="#p7" class="b"/>
<use href="#p7" class="k"/>
</g>
<rect x="405.5" y="237.5" width="276" height="71" stroke="#8a8a8a" stroke-width="1.1" fill="none"/>
<path d="M443.83 237.5V308.5M482.17 237.5V308.5M520.5 237.5V308.5M558.83 237.5V308.5M597.17 237.5V308.5M635.5 237.5V308.5M673.83 237.5V308.5M405.5 301.41H681.5M405.5 273.5H681.5M405.5 245.59H681.5" stroke="#efefef" stroke-width="1.5" fill="none"/>
<path d="M405.5 308.5v-3M405.5 237.5v3M443.83 308.5v-3M443.83 237.5v3M482.17 308.5v-3M482.17 237.5v3M520.5 308.5v-3M520.5 237.5v3M558.83 308.5v-3M558.83 237.5v3M597.17 308.5v-3M597.17 237.5v3M635.5 308.5v-3M635.5 237.5v3M673.83 308.5v-3M673.83 237.5v3M405.5 301.41h3M681.5 301.41h-3M405.5 273.5h3M681.5 273.5h-3M405.5 245.59h3M681.5 245.59h-3" stroke="#8a8a8a" stroke-width="1" fill="none"/>
<text x="405.5" y="323.5" class="tk" text-anchor="middle" textLength="5.75" lengthAdjust="spacingAndGlyphs">0</text>
<text x="443.83" y="323.5" class="tk" text-anchor="middle" textLength="17.25" lengthAdjust="spacingAndGlyphs">200</text>
<text x="482.17" y="323.5" class="tk" text-anchor="middle" textLength="17.25" lengthAdjust="spacingAndGlyphs">400</text>
<text x="520.5" y="323.5" class="tk" text-anchor="middle" textLength="17.25" lengthAdjust="spacingAndGlyphs">600</text>
<text x="558.83" y="323.5" class="tk" text-anchor="middle" textLength="17.25" lengthAdjust="spacingAndGlyphs">800</text>
<text x="597.17" y="323.5" class="tk" text-anchor="middle" textLength="23" lengthAdjust="spacingAndGlyphs">1000</text>
<text x="635.5" y="323.5" class="tk" text-anchor="middle" textLength="23" lengthAdjust="spacingAndGlyphs">1200</text>
<text x="673.83" y="323.5" class="tk" text-anchor="middle" textLength="23" lengthAdjust="spacingAndGlyphs">1400</text>
<text x="401.2" y="305.81" class="tk" text-anchor="end" textLength="9.2" lengthAdjust="spacingAndGlyphs">-5</text>
<text x="401.2" y="277.9" class="tk" text-anchor="end" textLength="5.75" lengthAdjust="spacingAndGlyphs">0</text>
<text x="401.2" y="249.99" class="tk" text-anchor="end" textLength="5.75" lengthAdjust="spacingAndGlyphs">5</text>
<text x="405.9" y="235.9" class="ex" style="font-size:15px">&#215;</text>
<text x="415.1" y="234.5" class="ex">10</text>
<text x="427.4" y="229" class="ex" style="font-size:8.5px">-4</text>
<g transform="translate(380.8 302.6) rotate(-90)">
<text x="-0.2" y="0" class="ylD">&#916;</text>
<text x="10.5" y="0" class="yl">Pt</text>
<text x="23.6" y="5.8" class="yl" style="font-size:9.8px">12</text>
<text x="36.4" y="0" class="yl">(pu)</text>
</g>
<g clip-path="url(#c8)">
<use href="#p9" class="r"/>
<use href="#p9" class="b"/>
<use href="#p9" class="k"/>
</g>
<text x="543.5" y="338.3" class="xl" text-anchor="middle" textLength="44" lengthAdjust="spacingAndGlyphs">Time (s)</text>
<path d="M82.83 404.5V475.5M121.17 404.5V475.5M159.5 404.5V475.5M197.83 404.5V475.5M236.17 404.5V475.5M274.5 404.5V475.5M312.83 404.5V475.5M44.5 465.47H320.5M44.5 438.01H320.5M44.5 410.54H320.5" stroke="#efefef" stroke-width="1.5" fill="none"/>
<path d="M44.5 475.5v-3M44.5 404.5v3M82.83 475.5v-3M82.83 404.5v3M121.17 475.5v-3M121.17 404.5v3M159.5 475.5v-3M159.5 404.5v3M197.83 475.5v-3M197.83 404.5v3M236.17 475.5v-3M236.17 404.5v3M274.5 475.5v-3M274.5 404.5v3M312.83 475.5v-3M312.83 404.5v3M44.5 465.47h3M320.5 465.47h-3M44.5 438.01h3M320.5 438.01h-3M44.5 410.54h3M320.5 410.54h-3" stroke="#8a8a8a" stroke-width="1" fill="none"/>
<text x="44.5" y="490.5" class="tk" text-anchor="middle" textLength="5.75" lengthAdjust="spacingAndGlyphs">0</text>
<text x="82.83" y="490.5" class="tk" text-anchor="middle" textLength="17.25" lengthAdjust="spacingAndGlyphs">200</text>
<text x="121.17" y="490.5" class="tk" text-anchor="middle" textLength="17.25" lengthAdjust="spacingAndGlyphs">400</text>
<text x="159.5" y="490.5" class="tk" text-anchor="middle" textLength="17.25" lengthAdjust="spacingAndGlyphs">600</text>
<text x="197.83" y="490.5" class="tk" text-anchor="middle" textLength="17.25" lengthAdjust="spacingAndGlyphs">800</text>
<text x="236.17" y="490.5" class="tk" text-anchor="middle" textLength="23" lengthAdjust="spacingAndGlyphs">1000</text>
<text x="274.5" y="490.5" class="tk" text-anchor="middle" textLength="23" lengthAdjust="spacingAndGlyphs">1200</text>
<text x="312.83" y="490.5" class="tk" text-anchor="middle" textLength="23" lengthAdjust="spacingAndGlyphs">1400</text>
<text x="40.2" y="469.87" class="tk" text-anchor="end" textLength="5.75" lengthAdjust="spacingAndGlyphs">0</text>
<text x="40.2" y="442.41" class="tk" text-anchor="end" textLength="5.75" lengthAdjust="spacingAndGlyphs">2</text>
<text x="40.2" y="414.94" class="tk" text-anchor="end" textLength="5.75" lengthAdjust="spacingAndGlyphs">4</text>
<text x="44.9" y="402.9" class="ex" style="font-size:15px">&#215;</text>
<text x="54.1" y="401.5" class="ex">10</text>
<text x="66.4" y="396" class="ex" style="font-size:8.5px">-3</text>
<g transform="translate(23.5 465) rotate(-90)">
<text x="-0.2" y="0" class="ylD">&#916;</text>
<text x="10.5" y="0" class="yl">F</text>
<text x="18.6" y="6.2" class="yl" style="font-size:9.5px">1</text>
<text x="28.1" y="0" class="yl">(pu)</text>
</g>
<rect x="44.5" y="404.5" width="276" height="71" stroke="#8a8a8a" stroke-width="1.1" fill="none"/>
<g clip-path="url(#c10)">
<use href="#p11" class="r"/>
<use href="#p11" class="b"/>
<use href="#p11" class="k"/>
</g>
<path d="M82.83 512.5V582.5M121.17 512.5V582.5M159.5 512.5V582.5M197.83 512.5V582.5M236.17 512.5V582.5M274.5 512.5V582.5M312.83 512.5V582.5M44.5 571.02H320.5M44.5 543.02H320.5M44.5 515.02H320.5" stroke="#efefef" stroke-width="1.5" fill="none"/>
<path d="M44.5 582.5v-3M44.5 512.5v3M82.83 582.5v-3M82.83 512.5v3M121.17 582.5v-3M121.17 512.5v3M159.5 582.5v-3M159.5 512.5v3M197.83 582.5v-3M197.83 512.5v3M236.17 582.5v-3M236.17 512.5v3M274.5 582.5v-3M274.5 512.5v3M312.83 582.5v-3M312.83 512.5v3M44.5 571.02h3M320.5 571.02h-3M44.5 543.02h3M320.5 543.02h-3M44.5 515.02h3M320.5 515.02h-3" stroke="#8a8a8a" stroke-width="1" fill="none"/>
<text x="44.5" y="597.5" class="tk" text-anchor="middle" textLength="5.75" lengthAdjust="spacingAndGlyphs">0</text>
<text x="82.83" y="597.5" class="tk" text-anchor="middle" textLength="17.25" lengthAdjust="spacingAndGlyphs">200</text>
<text x="121.17" y="597.5" class="tk" text-anchor="middle" textLength="17.25" lengthAdjust="spacingAndGlyphs">400</text>
<text x="159.5" y="597.5" class="tk" text-anchor="middle" textLength="17.25" lengthAdjust="spacingAndGlyphs">600</text>
<text x="197.83" y="597.5" class="tk" text-anchor="middle" textLength="17.25" lengthAdjust="spacingAndGlyphs">800</text>
<text x="236.17" y="597.5" class="tk" text-anchor="middle" textLength="23" lengthAdjust="spacingAndGlyphs">1000</text>
<text x="274.5" y="597.5" class="tk" text-anchor="middle" textLength="23" lengthAdjust="spacingAndGlyphs">1200</text>
<text x="312.83" y="597.5" class="tk" text-anchor="middle" textLength="23" lengthAdjust="spacingAndGlyphs">1400</text>
<text x="40.2" y="575.42" class="tk" text-anchor="end" textLength="5.75" lengthAdjust="spacingAndGlyphs">0</text>
<text x="40.2" y="547.42" class="tk" text-anchor="end" textLength="5.75" lengthAdjust="spacingAndGlyphs">2</text>
<text x="40.2" y="519.42" class="tk" text-anchor="end" textLength="5.75" lengthAdjust="spacingAndGlyphs">4</text>
<text x="44.9" y="510.9" class="ex" style="font-size:15px">&#215;</text>
<text x="54.1" y="509.5" class="ex">10</text>
<text x="66.4" y="504" class="ex" style="font-size:8.5px">-3</text>
<g transform="translate(23.5 572.5) rotate(-90)">
<text x="-0.2" y="0" class="ylD">&#916;</text>
<text x="10.5" y="0" class="yl">F</text>
<text x="18.6" y="6.2" class="yl" style="font-size:9.5px">2</text>
<text x="28.1" y="0" class="yl">(pu)</text>
</g>
<rect x="44.5" y="512.5" width="276" height="70" stroke="#8a8a8a" stroke-width="1.1" fill="none"/>
<g clip-path="url(#c12)">
<use href="#p13" class="r"/>
<use href="#p13" class="b"/>
<use href="#p13" class="k"/>
</g>
<rect x="44.5" y="618.5" width="276" height="71" stroke="#8a8a8a" stroke-width="1.1" fill="none"/>
<path d="M82.83 618.5V689.5M121.17 618.5V689.5M159.5 618.5V689.5M197.83 618.5V689.5M236.17 618.5V689.5M274.5 618.5V689.5M312.83 618.5V689.5M44.5 682.41H320.5M44.5 654.5H320.5M44.5 626.59H320.5" stroke="#efefef" stroke-width="1.5" fill="none"/>
<path d="M44.5 689.5v-3M44.5 618.5v3M82.83 689.5v-3M82.83 618.5v3M121.17 689.5v-3M121.17 618.5v3M159.5 689.5v-3M159.5 618.5v3M197.83 689.5v-3M197.83 618.5v3M236.17 689.5v-3M236.17 618.5v3M274.5 689.5v-3M274.5 618.5v3M312.83 689.5v-3M312.83 618.5v3M44.5 682.41h3M320.5 682.41h-3M44.5 654.5h3M320.5 654.5h-3M44.5 626.59h3M320.5 626.59h-3" stroke="#8a8a8a" stroke-width="1" fill="none"/>
<text x="44.5" y="704.5" class="tk" text-anchor="middle" textLength="5.75" lengthAdjust="spacingAndGlyphs">0</text>
<text x="82.83" y="704.5" class="tk" text-anchor="middle" textLength="17.25" lengthAdjust="spacingAndGlyphs">200</text>
<text x="121.17" y="704.5" class="tk" text-anchor="middle" textLength="17.25" lengthAdjust="spacingAndGlyphs">400</text>
<text x="159.5" y="704.5" class="tk" text-anchor="middle" textLength="17.25" lengthAdjust="spacingAndGlyphs">600</text>
<text x="197.83" y="704.5" class="tk" text-anchor="middle" textLength="17.25" lengthAdjust="spacingAndGlyphs">800</text>
<text x="236.17" y="704.5" class="tk" text-anchor="middle" textLength="23" lengthAdjust="spacingAndGlyphs">1000</text>
<text x="274.5" y="704.5" class="tk" text-anchor="middle" textLength="23" lengthAdjust="spacingAndGlyphs">1200</text>
<text x="312.83" y="704.5" class="tk" text-anchor="middle" textLength="23" lengthAdjust="spacingAndGlyphs">1400</text>
<text x="40.2" y="686.81" class="tk" text-anchor="end" textLength="9.2" lengthAdjust="spacingAndGlyphs">-5</text>
<text x="40.2" y="658.9" class="tk" text-anchor="end" textLength="5.75" lengthAdjust="spacingAndGlyphs">0</text>
<text x="40.2" y="630.99" class="tk" text-anchor="end" textLength="5.75" lengthAdjust="spacingAndGlyphs">5</text>
<text x="44.9" y="616.9" class="ex" style="font-size:15px">&#215;</text>
<text x="54.1" y="615.5" class="ex">10</text>
<text x="66.4" y="610" class="ex" style="font-size:8.5px">-4</text>
<g transform="translate(19.8 683.6) rotate(-90)">
<text x="-0.2" y="0" class="ylD">&#916;</text>
<text x="10.5" y="0" class="yl">Pt</text>
<text x="23.6" y="5.8" class="yl" style="font-size:9.8px">12</text>
<text x="36.4" y="0" class="yl">(pu)</text>
</g>
<g clip-path="url(#c14)">
<use href="#p15" class="r"/>
<use href="#p15" class="b"/>
<use href="#p15" class="k"/>
</g>
<text x="182.5" y="719.3" class="xl" text-anchor="middle" textLength="44" lengthAdjust="spacingAndGlyphs">Time (s)</text>
<path d="M443.83 404.5V475.5M482.17 404.5V475.5M520.5 404.5V475.5M558.83 404.5V475.5M597.17 404.5V475.5M635.5 404.5V475.5M673.83 404.5V475.5M405.5 465.47H681.5M405.5 438.01H681.5M405.5 410.54H681.5" stroke="#efefef" stroke-width="1.5" fill="none"/>
<path d="M405.5 475.5v-3M405.5 404.5v3M443.83 475.5v-3M443.83 404.5v3M482.17 475.5v-3M482.17 404.5v3M520.5 475.5v-3M520.5 404.5v3M558.83 475.5v-3M558.83 404.5v3M597.17 475.5v-3M597.17 404.5v3M635.5 475.5v-3M635.5 404.5v3M673.83 475.5v-3M673.83 404.5v3M405.5 465.47h3M681.5 465.47h-3M405.5 438.01h3M681.5 438.01h-3M405.5 410.54h3M681.5 410.54h-3" stroke="#8a8a8a" stroke-width="1" fill="none"/>
<text x="405.5" y="490.5" class="tk" text-anchor="middle" textLength="5.75" lengthAdjust="spacingAndGlyphs">0</text>
<text x="443.83" y="490.5" class="tk" text-anchor="middle" textLength="17.25" lengthAdjust="spacingAndGlyphs">200</text>
<text x="482.17" y="490.5" class="tk" text-anchor="middle" textLength="17.25" lengthAdjust="spacingAndGlyphs">400</text>
<text x="520.5" y="490.5" class="tk" text-anchor="middle" textLength="17.25" lengthAdjust="spacingAndGlyphs">600</text>
<text x="558.83" y="490.5" class="tk" text-anchor="middle" textLength="17.25" lengthAdjust="spacingAndGlyphs">800</text>
<text x="597.17" y="490.5" class="tk" text-anchor="middle" textLength="23" lengthAdjust="spacingAndGlyphs">1000</text>
<text x="635.5" y="490.5" class="tk" text-anchor="middle" textLength="23" lengthAdjust="spacingAndGlyphs">1200</text>
<text x="673.83" y="490.5" class="tk" text-anchor="middle" textLength="23" lengthAdjust="spacingAndGlyphs">1400</text>
<text x="401.2" y="469.87" class="tk" text-anchor="end" textLength="5.75" lengthAdjust="spacingAndGlyphs">0</text>
<text x="401.2" y="442.41" class="tk" text-anchor="end" textLength="5.75" lengthAdjust="spacingAndGlyphs">2</text>
<text x="401.2" y="414.94" class="tk" text-anchor="end" textLength="5.75" lengthAdjust="spacingAndGlyphs">4</text>
<text x="405.9" y="402.9" class="ex" style="font-size:15px">&#215;</text>
<text x="415.1" y="401.5" class="ex">10</text>
<text x="427.4" y="396" class="ex" style="font-size:8.5px">-3</text>
<g transform="translate(384.5 465) rotate(-90)">
<text x="-0.2" y="0" class="ylD">&#916;</text>
<text x="10.5" y="0" class="yl">F</text>
<text x="18.6" y="6.2" class="yl" style="font-size:9.5px">1</text>
<text x="28.1" y="0" class="yl">(pu)</text>
</g>
<rect x="405.5" y="404.5" width="276" height="71" stroke="#8a8a8a" stroke-width="1.1" fill="none"/>
<g clip-path="url(#c16)">
<use href="#p17" class="r"/>
<use href="#p17" class="b"/>
<use href="#p17" class="k"/>
</g>
<path d="M443.83 512.5V582.5M482.17 512.5V582.5M520.5 512.5V582.5M558.83 512.5V582.5M597.17 512.5V582.5M635.5 512.5V582.5M673.83 512.5V582.5M405.5 571.02H681.5M405.5 543.02H681.5M405.5 515.02H681.5" stroke="#efefef" stroke-width="1.5" fill="none"/>
<path d="M405.5 582.5v-3M405.5 512.5v3M443.83 582.5v-3M443.83 512.5v3M482.17 582.5v-3M482.17 512.5v3M520.5 582.5v-3M520.5 512.5v3M558.83 582.5v-3M558.83 512.5v3M597.17 582.5v-3M597.17 512.5v3M635.5 582.5v-3M635.5 512.5v3M673.83 582.5v-3M673.83 512.5v3M405.5 571.02h3M681.5 571.02h-3M405.5 543.02h3M681.5 543.02h-3M405.5 515.02h3M681.5 515.02h-3" stroke="#8a8a8a" stroke-width="1" fill="none"/>
<text x="405.5" y="597.5" class="tk" text-anchor="middle" textLength="5.75" lengthAdjust="spacingAndGlyphs">0</text>
<text x="443.83" y="597.5" class="tk" text-anchor="middle" textLength="17.25" lengthAdjust="spacingAndGlyphs">200</text>
<text x="482.17" y="597.5" class="tk" text-anchor="middle" textLength="17.25" lengthAdjust="spacingAndGlyphs">400</text>
<text x="520.5" y="597.5" class="tk" text-anchor="middle" textLength="17.25" lengthAdjust="spacingAndGlyphs">600</text>
<text x="558.83" y="597.5" class="tk" text-anchor="middle" textLength="17.25" lengthAdjust="spacingAndGlyphs">800</text>
<text x="597.17" y="597.5" class="tk" text-anchor="middle" textLength="23" lengthAdjust="spacingAndGlyphs">1000</text>
<text x="635.5" y="597.5" class="tk" text-anchor="middle" textLength="23" lengthAdjust="spacingAndGlyphs">1200</text>
<text x="673.83" y="597.5" class="tk" text-anchor="middle" textLength="23" lengthAdjust="spacingAndGlyphs">1400</text>
<text x="401.2" y="575.42" class="tk" text-anchor="end" textLength="5.75" lengthAdjust="spacingAndGlyphs">0</text>
<text x="401.2" y="547.42" class="tk" text-anchor="end" textLength="5.75" lengthAdjust="spacingAndGlyphs">2</text>
<text x="401.2" y="519.42" class="tk" text-anchor="end" textLength="5.75" lengthAdjust="spacingAndGlyphs">4</text>
<text x="405.9" y="510.9" class="ex" style="font-size:15px">&#215;</text>
<text x="415.1" y="509.5" class="ex">10</text>
<text x="427.4" y="504" class="ex" style="font-size:8.5px">-3</text>
<g transform="translate(384.5 572.5) rotate(-90)">
<text x="-0.2" y="0" class="ylD">&#916;</text>
<text x="10.5" y="0" class="yl">F</text>
<text x="18.6" y="6.2" class="yl" style="font-size:9.5px">2</text>
<text x="28.1" y="0" class="yl">(pu)</text>
</g>
<rect x="405.5" y="512.5" width="276" height="70" stroke="#8a8a8a" stroke-width="1.1" fill="none"/>
<g clip-path="url(#c18)">
<use href="#p19" class="r"/>
<use href="#p19" class="b"/>
<use href="#p19" class="k"/>
</g>
<rect x="405.5" y="618.5" width="276" height="71" stroke="#8a8a8a" stroke-width="1.1" fill="none"/>
<path d="M443.83 618.5V689.5M482.17 618.5V689.5M520.5 618.5V689.5M558.83 618.5V689.5M597.17 618.5V689.5M635.5 618.5V689.5M673.83 618.5V689.5M405.5 682.41H681.5M405.5 654.5H681.5M405.5 626.59H681.5" stroke="#efefef" stroke-width="1.5" fill="none"/>
<path d="M405.5 689.5v-3M405.5 618.5v3M443.83 689.5v-3M443.83 618.5v3M482.17 689.5v-3M482.17 618.5v3M520.5 689.5v-3M520.5 618.5v3M558.83 689.5v-3M558.83 618.5v3M597.17 689.5v-3M597.17 618.5v3M635.5 689.5v-3M635.5 618.5v3M673.83 689.5v-3M673.83 618.5v3M405.5 682.41h3M681.5 682.41h-3M405.5 654.5h3M681.5 654.5h-3M405.5 626.59h3M681.5 626.59h-3" stroke="#8a8a8a" stroke-width="1" fill="none"/>
<text x="405.5" y="704.5" class="tk" text-anchor="middle" textLength="5.75" lengthAdjust="spacingAndGlyphs">0</text>
<text x="443.83" y="704.5" class="tk" text-anchor="middle" textLength="17.25" lengthAdjust="spacingAndGlyphs">200</text>
<text x="482.17" y="704.5" class="tk" text-anchor="middle" textLength="17.25" lengthAdjust="spacingAndGlyphs">400</text>
<text x="520.5" y="704.5" class="tk" text-anchor="middle" textLength="17.25" lengthAdjust="spacingAndGlyphs">600</text>
<text x="558.83" y="704.5" class="tk" text-anchor="middle" textLength="17.25" lengthAdjust="spacingAndGlyphs">800</text>
<text x="597.17" y="704.5" class="tk" text-anchor="middle" textLength="23" lengthAdjust="spacingAndGlyphs">1000</text>
<text x="635.5" y="704.5" class="tk" text-anchor="middle" textLength="23" lengthAdjust="spacingAndGlyphs">1200</text>
<text x="673.83" y="704.5" class="tk" text-anchor="middle" textLength="23" lengthAdjust="spacingAndGlyphs">1400</text>
<text x="401.2" y="686.81" class="tk" text-anchor="end" textLength="9.2" lengthAdjust="spacingAndGlyphs">-5</text>
<text x="401.2" y="658.9" class="tk" text-anchor="end" textLength="5.75" lengthAdjust="spacingAndGlyphs">0</text>
<text x="401.2" y="630.99" class="tk" text-anchor="end" textLength="5.75" lengthAdjust="spacingAndGlyphs">5</text>
<text x="405.9" y="616.9" class="ex" style="font-size:15px">&#215;</text>
<text x="415.1" y="615.5" class="ex">10</text>
<text x="427.4" y="610" class="ex" style="font-size:8.5px">-4</text>
<g transform="translate(380.8 683.6) rotate(-90)">
<text x="-0.2" y="0" class="ylD">&#916;</text>
<text x="10.5" y="0" class="yl">Pt</text>
<text x="23.6" y="5.8" class="yl" style="font-size:9.8px">12</text>
<text x="36.4" y="0" class="yl">(pu)</text>
</g>
<g clip-path="url(#c20)">
<use href="#p21" class="r"/>
<use href="#p21" class="b"/>
<use href="#p21" class="k"/>
</g>
<text x="543.5" y="719.3" class="xl" text-anchor="middle" textLength="44" lengthAdjust="spacingAndGlyphs">Time (s)</text>
<path d="M75.22 794.5V865.5M114.94 794.5V865.5M154.67 794.5V865.5M194.39 794.5V865.5M234.11 794.5V865.5M273.83 794.5V865.5M313.56 794.5V865.5M35.5 855.47H321.5M35.5 828.01H321.5M35.5 800.54H321.5" stroke="#efefef" stroke-width="1.5" fill="none"/>
<path d="M35.5 865.5v-3M35.5 794.5v3M75.22 865.5v-3M75.22 794.5v3M114.94 865.5v-3M114.94 794.5v3M154.67 865.5v-3M154.67 794.5v3M194.39 865.5v-3M194.39 794.5v3M234.11 865.5v-3M234.11 794.5v3M273.83 865.5v-3M273.83 794.5v3M313.56 865.5v-3M313.56 794.5v3M35.5 855.47h3M321.5 855.47h-3M35.5 828.01h3M321.5 828.01h-3M35.5 800.54h3M321.5 800.54h-3" stroke="#8a8a8a" stroke-width="1" fill="none"/>
<text x="35.5" y="880.5" class="tk" text-anchor="middle" textLength="5.75" lengthAdjust="spacingAndGlyphs">0</text>
<text x="75.22" y="880.5" class="tk" text-anchor="middle" textLength="17.25" lengthAdjust="spacingAndGlyphs">200</text>
<text x="114.94" y="880.5" class="tk" text-anchor="middle" textLength="17.25" lengthAdjust="spacingAndGlyphs">400</text>
<text x="154.67" y="880.5" class="tk" text-anchor="middle" textLength="17.25" lengthAdjust="spacingAndGlyphs">600</text>
<text x="194.39" y="880.5" class="tk" text-anchor="middle" textLength="17.25" lengthAdjust="spacingAndGlyphs">800</text>
<text x="234.11" y="880.5" class="tk" text-anchor="middle" textLength="23" lengthAdjust="spacingAndGlyphs">1000</text>
<text x="273.83" y="880.5" class="tk" text-anchor="middle" textLength="23" lengthAdjust="spacingAndGlyphs">1200</text>
<text x="313.56" y="880.5" class="tk" text-anchor="middle" textLength="23" lengthAdjust="spacingAndGlyphs">1400</text>
<text x="31.2" y="859.87" class="tk" text-anchor="end" textLength="5.75" lengthAdjust="spacingAndGlyphs">0</text>
<text x="31.2" y="832.41" class="tk" text-anchor="end" textLength="5.75" lengthAdjust="spacingAndGlyphs">2</text>
<text x="31.2" y="804.94" class="tk" text-anchor="end" textLength="5.75" lengthAdjust="spacingAndGlyphs">4</text>
<text x="35.9" y="792.9" class="ex" style="font-size:15px">&#215;</text>
<text x="45.1" y="791.5" class="ex">10</text>
<text x="57.4" y="786" class="ex" style="font-size:8.5px">-3</text>
<g transform="translate(14.5 855) rotate(-90)">
<text x="-0.2" y="0" class="ylD">&#916;</text>
<text x="10.5" y="0" class="yl">F</text>
<text x="18.6" y="6.2" class="yl" style="font-size:9.5px">1</text>
<text x="28.1" y="0" class="yl">(pu)</text>
</g>
<rect x="35.5" y="794.5" width="286" height="71" stroke="#8a8a8a" stroke-width="1.1" fill="none"/>
<g clip-path="url(#c22)">
<use href="#p23" class="r"/>
<use href="#p23" class="b"/>
<use href="#p23" class="k"/>
</g>
<path d="M75.22 902.5V972.5M114.94 902.5V972.5M154.67 902.5V972.5M194.39 902.5V972.5M234.11 902.5V972.5M273.83 902.5V972.5M313.56 902.5V972.5M35.5 961.02H321.5M35.5 933.02H321.5M35.5 905.02H321.5" stroke="#efefef" stroke-width="1.5" fill="none"/>
<path d="M35.5 972.5v-3M35.5 902.5v3M75.22 972.5v-3M75.22 902.5v3M114.94 972.5v-3M114.94 902.5v3M154.67 972.5v-3M154.67 902.5v3M194.39 972.5v-3M194.39 902.5v3M234.11 972.5v-3M234.11 902.5v3M273.83 972.5v-3M273.83 902.5v3M313.56 972.5v-3M313.56 902.5v3M35.5 961.02h3M321.5 961.02h-3M35.5 933.02h3M321.5 933.02h-3M35.5 905.02h3M321.5 905.02h-3" stroke="#8a8a8a" stroke-width="1" fill="none"/>
<text x="35.5" y="987.5" class="tk" text-anchor="middle" textLength="5.75" lengthAdjust="spacingAndGlyphs">0</text>
<text x="75.22" y="987.5" class="tk" text-anchor="middle" textLength="17.25" lengthAdjust="spacingAndGlyphs">200</text>
<text x="114.94" y="987.5" class="tk" text-anchor="middle" textLength="17.25" lengthAdjust="spacingAndGlyphs">400</text>
<text x="154.67" y="987.5" class="tk" text-anchor="middle" textLength="17.25" lengthAdjust="spacingAndGlyphs">600</text>
<text x="194.39" y="987.5" class="tk" text-anchor="middle" textLength="17.25" lengthAdjust="spacingAndGlyphs">800</text>
<text x="234.11" y="987.5" class="tk" text-anchor="middle" textLength="23" lengthAdjust="spacingAndGlyphs">1000</text>
<text x="273.83" y="987.5" class="tk" text-anchor="middle" textLength="23" lengthAdjust="spacingAndGlyphs">1200</text>
<text x="313.56" y="987.5" class="tk" text-anchor="middle" textLength="23" lengthAdjust="spacingAndGlyphs">1400</text>
<text x="31.2" y="965.42" class="tk" text-anchor="end" textLength="5.75" lengthAdjust="spacingAndGlyphs">0</text>
<text x="31.2" y="937.42" class="tk" text-anchor="end" textLength="5.75" lengthAdjust="spacingAndGlyphs">2</text>
<text x="31.2" y="909.42" class="tk" text-anchor="end" textLength="5.75" lengthAdjust="spacingAndGlyphs">4</text>
<text x="35.9" y="900.9" class="ex" style="font-size:15px">&#215;</text>
<text x="45.1" y="899.5" class="ex">10</text>
<text x="57.4" y="894" class="ex" style="font-size:8.5px">-3</text>
<g transform="translate(14.5 962.5) rotate(-90)">
<text x="-0.2" y="0" class="ylD">&#916;</text>
<text x="10.5" y="0" class="yl">F</text>
<text x="18.6" y="6.2" class="yl" style="font-size:9.5px">2</text>
<text x="28.1" y="0" class="yl">(pu)</text>
</g>
<rect x="35.5" y="902.5" width="286" height="70" stroke="#8a8a8a" stroke-width="1.1" fill="none"/>
<g clip-path="url(#c24)">
<use href="#p25" class="r"/>
<use href="#p25" class="b"/>
<use href="#p25" class="k"/>
</g>
<rect x="35.5" y="1008.5" width="286" height="71" stroke="#8a8a8a" stroke-width="1.1" fill="none"/>
<path d="M75.22 1008.5V1079.5M114.94 1008.5V1079.5M154.67 1008.5V1079.5M194.39 1008.5V1079.5M234.11 1008.5V1079.5M273.83 1008.5V1079.5M313.56 1008.5V1079.5M35.5 1072.41H321.5M35.5 1044.5H321.5M35.5 1016.59H321.5" stroke="#efefef" stroke-width="1.5" fill="none"/>
<path d="M35.5 1079.5v-3M35.5 1008.5v3M75.22 1079.5v-3M75.22 1008.5v3M114.94 1079.5v-3M114.94 1008.5v3M154.67 1079.5v-3M154.67 1008.5v3M194.39 1079.5v-3M194.39 1008.5v3M234.11 1079.5v-3M234.11 1008.5v3M273.83 1079.5v-3M273.83 1008.5v3M313.56 1079.5v-3M313.56 1008.5v3M35.5 1072.41h3M321.5 1072.41h-3M35.5 1044.5h3M321.5 1044.5h-3M35.5 1016.59h3M321.5 1016.59h-3" stroke="#8a8a8a" stroke-width="1" fill="none"/>
<text x="35.5" y="1094.5" class="tk" text-anchor="middle" textLength="5.75" lengthAdjust="spacingAndGlyphs">0</text>
<text x="75.22" y="1094.5" class="tk" text-anchor="middle" textLength="17.25" lengthAdjust="spacingAndGlyphs">200</text>
<text x="114.94" y="1094.5" class="tk" text-anchor="middle" textLength="17.25" lengthAdjust="spacingAndGlyphs">400</text>
<text x="154.67" y="1094.5" class="tk" text-anchor="middle" textLength="17.25" lengthAdjust="spacingAndGlyphs">600</text>
<text x="194.39" y="1094.5" class="tk" text-anchor="middle" textLength="17.25" lengthAdjust="spacingAndGlyphs">800</text>
<text x="234.11" y="1094.5" class="tk" text-anchor="middle" textLength="23" lengthAdjust="spacingAndGlyphs">1000</text>
<text x="273.83" y="1094.5" class="tk" text-anchor="middle" textLength="23" lengthAdjust="spacingAndGlyphs">1200</text>
<text x="313.56" y="1094.5" class="tk" text-anchor="middle" textLength="23" lengthAdjust="spacingAndGlyphs">1400</text>
<text x="31.2" y="1076.81" class="tk" text-anchor="end" textLength="9.2" lengthAdjust="spacingAndGlyphs">-5</text>
<text x="31.2" y="1048.9" class="tk" text-anchor="end" textLength="5.75" lengthAdjust="spacingAndGlyphs">0</text>
<text x="31.2" y="1020.99" class="tk" text-anchor="end" textLength="5.75" lengthAdjust="spacingAndGlyphs">5</text>
<text x="35.9" y="1006.9" class="ex" style="font-size:15px">&#215;</text>
<text x="45.1" y="1005.5" class="ex">10</text>
<text x="57.4" y="1000" class="ex" style="font-size:8.5px">-4</text>
<g transform="translate(10.8 1073.6) rotate(-90)">
<text x="-0.2" y="0" class="ylD">&#916;</text>
<text x="10.5" y="0" class="yl">Pt</text>
<text x="23.6" y="5.8" class="yl" style="font-size:9.8px">12</text>
<text x="36.4" y="0" class="yl">(pu)</text>
</g>
<g clip-path="url(#c26)">
<use href="#p27" class="r"/>
<use href="#p27" class="b"/>
<use href="#p27" class="k"/>
</g>
<text x="178.5" y="1109.8" class="xl" text-anchor="middle" textLength="44" lengthAdjust="spacingAndGlyphs">Time (s)</text>
<path d="M434.25 795.5V866.5M473 795.5V866.5M511.75 795.5V866.5M550.5 795.5V866.5M589.25 795.5V866.5M628 795.5V866.5M666.75 795.5V866.5M395.5 856.47H674.5M395.5 829.01H674.5M395.5 801.54H674.5" stroke="#efefef" stroke-width="1.5" fill="none"/>
<path d="M395.5 866.5v-3M395.5 795.5v3M434.25 866.5v-3M434.25 795.5v3M473 866.5v-3M473 795.5v3M511.75 866.5v-3M511.75 795.5v3M550.5 866.5v-3M550.5 795.5v3M589.25 866.5v-3M589.25 795.5v3M628 866.5v-3M628 795.5v3M666.75 866.5v-3M666.75 795.5v3M395.5 856.47h3M674.5 856.47h-3M395.5 829.01h3M674.5 829.01h-3M395.5 801.54h3M674.5 801.54h-3" stroke="#8a8a8a" stroke-width="1" fill="none"/>
<text x="395.5" y="881.5" class="tk" text-anchor="middle" textLength="5.75" lengthAdjust="spacingAndGlyphs">0</text>
<text x="434.25" y="881.5" class="tk" text-anchor="middle" textLength="17.25" lengthAdjust="spacingAndGlyphs">200</text>
<text x="473" y="881.5" class="tk" text-anchor="middle" textLength="17.25" lengthAdjust="spacingAndGlyphs">400</text>
<text x="511.75" y="881.5" class="tk" text-anchor="middle" textLength="17.25" lengthAdjust="spacingAndGlyphs">600</text>
<text x="550.5" y="881.5" class="tk" text-anchor="middle" textLength="17.25" lengthAdjust="spacingAndGlyphs">800</text>
<text x="589.25" y="881.5" class="tk" text-anchor="middle" textLength="23" lengthAdjust="spacingAndGlyphs">1000</text>
<text x="628" y="881.5" class="tk" text-anchor="middle" textLength="23" lengthAdjust="spacingAndGlyphs">1200</text>
<text x="666.75" y="881.5" class="tk" text-anchor="middle" textLength="23" lengthAdjust="spacingAndGlyphs">1400</text>
<text x="391.2" y="860.87" class="tk" text-anchor="end" textLength="5.75" lengthAdjust="spacingAndGlyphs">0</text>
<text x="391.2" y="833.41" class="tk" text-anchor="end" textLength="5.75" lengthAdjust="spacingAndGlyphs">2</text>
<text x="391.2" y="805.94" class="tk" text-anchor="end" textLength="5.75" lengthAdjust="spacingAndGlyphs">4</text>
<text x="395.9" y="793.9" class="ex" style="font-size:15px">&#215;</text>
<text x="405.1" y="792.5" class="ex">10</text>
<text x="417.4" y="787" class="ex" style="font-size:8.5px">-3</text>
<g transform="translate(374.5 856) rotate(-90)">
<text x="-0.2" y="0" class="ylD">&#916;</text>
<text x="10.5" y="0" class="yl">F</text>
<text x="18.6" y="6.2" class="yl" style="font-size:9.5px">1</text>
<text x="28.1" y="0" class="yl">(pu)</text>
</g>
<rect x="395.5" y="795.5" width="279" height="71" stroke="#8a8a8a" stroke-width="1.1" fill="none"/>
<g clip-path="url(#c28)">
<use href="#p29" class="r"/>
<use href="#p29" class="b"/>
<use href="#p29" class="k"/>
</g>
<path d="M434.25 903.5V975.5M473 903.5V975.5M511.75 903.5V975.5M550.5 903.5V975.5M589.25 903.5V975.5M628 903.5V975.5M666.75 903.5V975.5M395.5 963.69H674.5M395.5 934.89H674.5M395.5 906.09H674.5" stroke="#efefef" stroke-width="1.5" fill="none"/>
<path d="M395.5 975.5v-3M395.5 903.5v3M434.25 975.5v-3M434.25 903.5v3M473 975.5v-3M473 903.5v3M511.75 975.5v-3M511.75 903.5v3M550.5 975.5v-3M550.5 903.5v3M589.25 975.5v-3M589.25 903.5v3M628 975.5v-3M628 903.5v3M666.75 975.5v-3M666.75 903.5v3M395.5 963.69h3M674.5 963.69h-3M395.5 934.89h3M674.5 934.89h-3M395.5 906.09h3M674.5 906.09h-3" stroke="#8a8a8a" stroke-width="1" fill="none"/>
<text x="395.5" y="990.5" class="tk" text-anchor="middle" textLength="5.75" lengthAdjust="spacingAndGlyphs">0</text>
<text x="434.25" y="990.5" class="tk" text-anchor="middle" textLength="17.25" lengthAdjust="spacingAndGlyphs">200</text>
<text x="473" y="990.5" class="tk" text-anchor="middle" textLength="17.25" lengthAdjust="spacingAndGlyphs">400</text>
<text x="511.75" y="990.5" class="tk" text-anchor="middle" textLength="17.25" lengthAdjust="spacingAndGlyphs">600</text>
<text x="550.5" y="990.5" class="tk" text-anchor="middle" textLength="17.25" lengthAdjust="spacingAndGlyphs">800</text>
<text x="589.25" y="990.5" class="tk" text-anchor="middle" textLength="23" lengthAdjust="spacingAndGlyphs">1000</text>
<text x="628" y="990.5" class="tk" text-anchor="middle" textLength="23" lengthAdjust="spacingAndGlyphs">1200</text>
<text x="666.75" y="990.5" class="tk" text-anchor="middle" textLength="23" lengthAdjust="spacingAndGlyphs">1400</text>
<text x="391.2" y="968.09" class="tk" text-anchor="end" textLength="5.75" lengthAdjust="spacingAndGlyphs">0</text>
<text x="391.2" y="939.29" class="tk" text-anchor="end" textLength="5.75" lengthAdjust="spacingAndGlyphs">2</text>
<text x="391.2" y="910.49" class="tk" text-anchor="end" textLength="5.75" lengthAdjust="spacingAndGlyphs">4</text>
<text x="395.9" y="901.9" class="ex" style="font-size:15px">&#215;</text>
<text x="405.1" y="900.5" class="ex">10</text>
<text x="417.4" y="895" class="ex" style="font-size:8.5px">-3</text>
<g transform="translate(374.5 964.5) rotate(-90)">
<text x="-0.2" y="0" class="ylD">&#916;</text>
<text x="10.5" y="0" class="yl">F</text>
<text x="18.6" y="6.2" class="yl" style="font-size:9.5px">2</text>
<text x="28.1" y="0" class="yl">(pu)</text>
</g>
<rect x="395.5" y="903.5" width="279" height="72" stroke="#8a8a8a" stroke-width="1.1" fill="none"/>
<g clip-path="url(#c30)">
<use href="#p31" class="r"/>
<use href="#p31" class="b"/>
<use href="#p31" class="k"/>
</g>
<rect x="395.5" y="1011.5" width="279" height="72" stroke="#8a8a8a" stroke-width="1.1" fill="none"/>
<path d="M434.25 1011.5V1083.5M473 1011.5V1083.5M511.75 1011.5V1083.5M550.5 1011.5V1083.5M589.25 1011.5V1083.5M628 1011.5V1083.5M666.75 1011.5V1083.5M395.5 1076.31H674.5M395.5 1048.01H674.5M395.5 1019.71H674.5" stroke="#efefef" stroke-width="1.5" fill="none"/>
<path d="M395.5 1083.5v-3M395.5 1011.5v3M434.25 1083.5v-3M434.25 1011.5v3M473 1083.5v-3M473 1011.5v3M511.75 1083.5v-3M511.75 1011.5v3M550.5 1083.5v-3M550.5 1011.5v3M589.25 1083.5v-3M589.25 1011.5v3M628 1083.5v-3M628 1011.5v3M666.75 1083.5v-3M666.75 1011.5v3M395.5 1076.31h3M674.5 1076.31h-3M395.5 1048.01h3M674.5 1048.01h-3M395.5 1019.71h3M674.5 1019.71h-3" stroke="#8a8a8a" stroke-width="1" fill="none"/>
<text x="395.5" y="1098.5" class="tk" text-anchor="middle" textLength="5.75" lengthAdjust="spacingAndGlyphs">0</text>
<text x="434.25" y="1098.5" class="tk" text-anchor="middle" textLength="17.25" lengthAdjust="spacingAndGlyphs">200</text>
<text x="473" y="1098.5" class="tk" text-anchor="middle" textLength="17.25" lengthAdjust="spacingAndGlyphs">400</text>
<text x="511.75" y="1098.5" class="tk" text-anchor="middle" textLength="17.25" lengthAdjust="spacingAndGlyphs">600</text>
<text x="550.5" y="1098.5" class="tk" text-anchor="middle" textLength="17.25" lengthAdjust="spacingAndGlyphs">800</text>
<text x="589.25" y="1098.5" class="tk" text-anchor="middle" textLength="23" lengthAdjust="spacingAndGlyphs">1000</text>
<text x="628" y="1098.5" class="tk" text-anchor="middle" textLength="23" lengthAdjust="spacingAndGlyphs">1200</text>
<text x="666.75" y="1098.5" class="tk" text-anchor="middle" textLength="23" lengthAdjust="spacingAndGlyphs">1400</text>
<text x="391.2" y="1080.71" class="tk" text-anchor="end" textLength="9.2" lengthAdjust="spacingAndGlyphs">-5</text>
<text x="391.2" y="1052.41" class="tk" text-anchor="end" textLength="5.75" lengthAdjust="spacingAndGlyphs">0</text>
<text x="391.2" y="1024.11" class="tk" text-anchor="end" textLength="5.75" lengthAdjust="spacingAndGlyphs">5</text>
<text x="395.9" y="1009.9" class="ex" style="font-size:15px">&#215;</text>
<text x="405.1" y="1008.5" class="ex">10</text>
<text x="417.4" y="1003" class="ex" style="font-size:8.5px">-4</text>
<g transform="translate(370.8 1077.1) rotate(-90)">
<text x="-0.2" y="0" class="ylD">&#916;</text>
<text x="10.5" y="0" class="yl">Pt</text>
<text x="23.6" y="5.8" class="yl" style="font-size:9.8px">12</text>
<text x="36.4" y="0" class="yl">(pu)</text>
</g>
<g clip-path="url(#c32)">
<use href="#p33" class="r"/>
<use href="#p33" class="b"/>
<use href="#p33" class="k"/>
</g>
<text x="535" y="1114.3" class="xl" text-anchor="middle" textLength="44" lengthAdjust="spacingAndGlyphs">Time (s)</text>
<text x="183.9" y="364.9" class="cap" text-anchor="middle">(a)</text>
<text x="541.2" y="364.9" class="cap" text-anchor="middle">(b)</text>
<text x="183.9" y="745.9" class="cap" text-anchor="middle">(c)</text>
<text x="541.2" y="745.9" class="cap" text-anchor="middle">(d)</text>
<text x="173" y="1141" class="cap" text-anchor="middle">(e)</text>
<text x="530" y="1141.2" class="cap" text-anchor="middle">(f)</text>
<rect x="87.5" y="5.5" width="202.7" height="15" fill="#fff" stroke="#a5a5a5" stroke-width="1"/>
<path d="M90 12.7H114.8" stroke="#ff0000" stroke-width="2.5"/>
<path d="M185.5 12.7h23" stroke="#000" stroke-width="2.8" stroke-dasharray="2.75 2.25"/>
<text x="116.6" y="15.8" class="lg">tie-line den.(s)</text>
<text x="212.1" y="15.8" class="lg">tie-line den.(s+1)</text>
<rect x="450.5" y="0.5" width="233.7" height="18.5" fill="#fff" stroke="#a5a5a5" stroke-width="1"/>
<path d="M452.9 9.8H477.8" stroke="#ff0000" stroke-width="2.5"/>
<path d="M527.3 9.8h10.3M547.3 9.8h4.8" stroke="#0000ff" stroke-width="2.5"/>
<path d="M601.9 9.8h23" stroke="#000" stroke-width="2.8" stroke-dasharray="2.75 2.25"/>
<text x="479.5" y="11.8" class="lg">-10% T<tspan dx="1.6" dy="5.1" style="font-size:8px">hr</tspan></text>
<text x="554.5" y="11.8" class="lg">+10%T<tspan dx="1.6" dy="5.1" style="font-size:8px">hr</tspan></text>
<text x="628.9" y="11.8" class="lg">Normal T<tspan dx="1.6" dy="5.1" style="font-size:8px">hr</tspan></text>
<rect x="83.5" y="385.5" width="229.5" height="15" fill="#fff" stroke="#a5a5a5" stroke-width="1"/>
<path d="M86.6 392.8H111.3" stroke="#ff0000" stroke-width="2.5"/>
<path d="M159.7 392.8h10.3M179.7 392.8h4.8" stroke="#0000ff" stroke-width="2.5"/>
<path d="M232.1 392.8h23" stroke="#000" stroke-width="2.8" stroke-dasharray="2.75 2.25"/>
<text x="112.9" y="396.1" class="lg">-10% Kp</text>
<text x="186.7" y="396.1" class="lg">+10%Kp</text>
<text x="259" y="396.1" class="lg">Normal Kp</text>
<rect x="444.5" y="383.5" width="225.5" height="15" fill="#fff" stroke="#a5a5a5" stroke-width="1"/>
<path d="M447.3 391.1H472.4" stroke="#ff0000" stroke-width="2.5"/>
<path d="M519.1 391.1h10.3M539.1 391.1h4.8" stroke="#0000ff" stroke-width="2.5"/>
<path d="M591.4 391.1h23" stroke="#000" stroke-width="2.8" stroke-dasharray="2.75 2.25"/>
<text x="474" y="394.4" class="lg">-10% Tp</text>
<text x="546.5" y="394.4" class="lg">+10%Tp</text>
<text x="618" y="394.4" class="lg">Normal Tp</text>
<rect x="81.5" y="771.5" width="228.5" height="18" fill="#fff" stroke="#a5a5a5" stroke-width="1"/>
<path d="M84.6 780.7H110.2" stroke="#ff0000" stroke-width="2.5"/>
<path d="M157.2 780.7h10.3M177.2 780.7h4.8" stroke="#0000ff" stroke-width="2.5"/>
<path d="M229.7 780.7h23" stroke="#000" stroke-width="2.8" stroke-dasharray="2.75 2.25"/>
<text x="111.9" y="782.7" class="lg">-10% T<tspan dx="1.6" dy="5.1" style="font-size:8px">r</tspan></text>
<text x="185.4" y="782.7" class="lg">+10%T<tspan dx="1.6" dy="5.1" style="font-size:8px">r</tspan></text>
<text x="257" y="782.7" class="lg">Normal T<tspan dx="1.6" dy="5.1" style="font-size:8px">r</tspan></text>
<rect x="435.5" y="768.5" width="227" height="19" fill="#fff" stroke="#a5a5a5" stroke-width="1"/>
<path d="M438.1 778.5H463.6" stroke="#ff0000" stroke-width="2.5"/>
<path d="M510.2 778.5h10.3M530.2 778.5h4.8" stroke="#0000ff" stroke-width="2.5"/>
<path d="M582.8 778.5h23" stroke="#000" stroke-width="2.8" stroke-dasharray="2.75 2.25"/>
<text x="465.4" y="780.5" class="lg">-10% K<tspan dx="1.6" dy="5.1" style="font-size:8px">r</tspan></text>
<text x="537.9" y="780.5" class="lg">+10%K<tspan dx="1.6" dy="5.1" style="font-size:8px">r</tspan></text>
<text x="609.7" y="780.5" class="lg">Normal K<tspan dx="1.6" dy="5.1" style="font-size:8px">r</tspan></text>
</svg></body></html>
